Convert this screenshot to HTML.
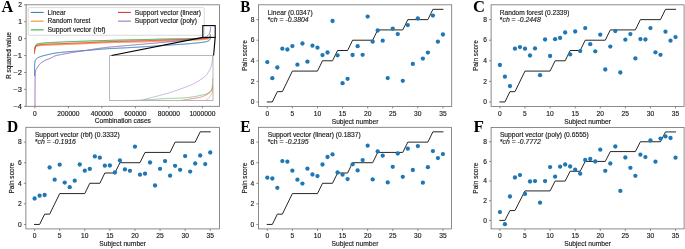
<!DOCTYPE html>
<html><head><meta charset="utf-8"><style>
html,body{margin:0;padding:0;background:#fff;}
svg{display:block;font-family:"Liberation Sans",sans-serif;will-change:transform;}
</style></head><body>
<svg width="685" height="249" viewBox="0 0 685 249">
<rect width="685" height="249" fill="#fff"/>
<clipPath id="clipA"><rect x="26.1" y="4.8" width="193.4" height="101.5"/></clipPath>
<path d="M34.50,76.00 L34.50,75.51 L34.50,75.02 L34.50,74.53 L34.50,74.04 L34.51,73.55 L34.51,73.06 L34.51,72.57 L34.52,72.08 L34.52,71.59 L34.52,71.10 L34.53,70.61 L34.53,70.12 L34.54,69.63 L34.55,69.14 L34.55,68.65 L34.56,68.17 L34.57,67.68 L34.58,67.19 L34.59,66.70 L34.60,66.21 L34.61,65.72 L34.62,65.23 L34.65,64.73 L34.68,64.24 L34.72,63.74 L34.77,63.25 L34.82,62.76 L34.88,62.28 L34.95,61.81 L35.03,61.34 L35.16,60.87 L35.35,60.40 L35.58,59.94 L35.83,59.51 L36.11,59.12 L36.41,58.77 L36.78,58.46 L37.19,58.17 L37.63,57.91 L38.06,57.67 L38.49,57.44 L38.93,57.23 L39.38,57.03 L39.84,56.84 L40.30,56.67 L40.76,56.51 L41.22,56.36 L41.68,56.21 L42.15,56.07 L42.62,55.93 L43.09,55.80 L43.56,55.67 L44.04,55.55 L44.51,55.42 L44.99,55.31 L45.47,55.19 L45.95,55.08 L46.42,54.96 L46.90,54.85 L47.38,54.74 L47.86,54.63 L48.33,54.52 L48.81,54.41 L49.29,54.31 L49.76,54.20 L50.24,54.09 L50.72,53.98 L51.20,53.88 L51.68,53.78 L52.16,53.68 L52.64,53.58 L53.12,53.48 L53.60,53.39 L54.08,53.30 L54.57,53.22 L55.05,53.14 L55.53,53.07 L56.01,53.00 L56.50,52.93 L56.98,52.87 L57.47,52.81 L57.95,52.75 L58.44,52.69 L58.92,52.63 L59.41,52.57 L59.89,52.52 L60.38,52.47 L60.87,52.42 L61.35,52.37 L61.84,52.32 L62.33,52.27 L62.82,52.22 L63.30,52.17 L63.79,52.13 L64.28,52.08 L64.77,52.04 L65.26,52.00 L65.75,51.95 L66.23,51.91 L66.72,51.87 L67.21,51.83 L67.70,51.79 L68.19,51.75 L68.68,51.71 L69.16,51.67 L69.65,51.63 L70.14,51.59 L70.63,51.55 L71.11,51.51 L71.60,51.47 L72.09,51.44 L72.58,51.40 L73.07,51.37 L73.55,51.33 L74.04,51.30 L74.53,51.26 L75.02,51.23 L75.51,51.20 L76.00,51.17 L76.48,51.13 L76.97,51.10 L77.46,51.07 L77.95,51.04 L78.44,51.01 L78.93,50.98 L79.42,50.95 L79.90,50.92 L80.39,50.88 L80.88,50.85 L81.37,50.82 L81.86,50.79 L82.35,50.76 L82.84,50.72 L83.32,50.69 L83.81,50.66 L84.30,50.62 L84.79,50.59 L85.28,50.55 L85.77,50.52 L86.25,50.48 L86.74,50.44 L87.23,50.40 L87.72,50.37 L88.20,50.33 L88.69,50.28 L89.18,50.24 L89.67,50.20 L90.16,50.16 L90.64,50.12 L91.13,50.07 L91.62,50.03 L92.11,49.98 L92.59,49.94 L93.08,49.90 L93.57,49.85 L94.06,49.81 L94.54,49.76 L95.03,49.72 L95.52,49.67 L96.01,49.63 L96.49,49.58 L96.98,49.54 L97.47,49.50 L97.96,49.45 L98.44,49.41 L98.93,49.37 L99.42,49.33 L99.91,49.29 L100.40,49.24 L100.88,49.20 L101.37,49.16 L101.86,49.13 L102.35,49.09 L102.83,49.05 L103.32,49.02 L103.81,48.98 L104.30,48.95 L104.79,48.91 L105.28,48.88 L105.76,48.85 L106.25,48.82 L106.74,48.79 L107.23,48.76 L107.72,48.73 L108.21,48.70 L108.69,48.68 L109.18,48.65 L109.67,48.62 L110.16,48.59 L110.65,48.57 L111.14,48.54 L111.63,48.51 L112.12,48.49 L112.60,48.46 L113.09,48.44 L113.58,48.41 L114.07,48.39 L114.56,48.37 L115.05,48.34 L115.54,48.32 L116.03,48.29 L116.51,48.27 L117.00,48.25 L117.49,48.22 L117.98,48.20 L118.47,48.18 L118.96,48.15 L119.45,48.13 L119.94,48.11 L120.43,48.09 L120.92,48.06 L121.40,48.04 L121.89,48.02 L122.38,47.99 L122.87,47.97 L123.36,47.94 L123.85,47.92 L124.34,47.90 L124.83,47.87 L125.32,47.85 L125.81,47.82 L126.29,47.80 L126.78,47.77 L127.27,47.75 L127.76,47.72 L128.25,47.70 L128.74,47.67 L129.23,47.64 L129.72,47.62 L130.20,47.59 L130.69,47.56 L131.18,47.53 L131.67,47.50 L132.16,47.48 L132.65,47.45 L133.14,47.42 L133.62,47.39 L134.11,47.36 L134.60,47.33 L135.09,47.31 L135.58,47.28 L136.07,47.25 L136.56,47.22 L137.05,47.19 L137.53,47.16 L138.02,47.13 L138.51,47.10 L139.00,47.07 L139.49,47.04 L139.98,47.01 L140.47,46.98 L140.95,46.95 L141.44,46.92 L141.93,46.89 L142.42,46.86 L142.91,46.83 L143.40,46.80 L143.89,46.77 L144.37,46.74 L144.86,46.71 L145.35,46.68 L145.84,46.65 L146.33,46.62 L146.82,46.59 L147.30,46.56 L147.79,46.53 L148.28,46.50 L148.77,46.47 L149.26,46.44 L149.75,46.40 L150.24,46.37 L150.72,46.34 L151.21,46.31 L151.70,46.28 L152.19,46.25 L152.68,46.22 L153.17,46.18 L153.65,46.15 L154.14,46.12 L154.63,46.09 L155.12,46.06 L155.61,46.02 L156.10,45.99 L156.59,45.96 L157.07,45.93 L157.56,45.90 L158.05,45.86 L158.54,45.83 L159.03,45.80 L159.52,45.77 L160.00,45.73 L160.49,45.70 L160.98,45.67 L161.47,45.64 L161.96,45.60 L162.45,45.57 L162.93,45.54 L163.42,45.51 L163.91,45.47 L164.40,45.44 L164.89,45.41 L165.38,45.37 L165.86,45.34 L166.35,45.31 L166.84,45.28 L167.33,45.24 L167.82,45.21 L168.31,45.18 L168.80,45.15 L169.28,45.12 L169.77,45.08 L170.26,45.05 L170.75,45.02 L171.24,44.99 L171.73,44.96 L172.22,44.92 L172.70,44.89 L173.19,44.86 L173.68,44.83 L174.17,44.79 L174.66,44.76 L175.15,44.73 L175.63,44.70 L176.12,44.66 L176.61,44.63 L177.10,44.60 L177.59,44.56 L178.08,44.53 L178.57,44.50 L179.05,44.46 L179.54,44.43 L180.03,44.39 L180.52,44.36 L181.01,44.32 L181.49,44.29 L181.98,44.25 L182.47,44.21 L182.96,44.18 L183.45,44.14 L183.94,44.10 L184.42,44.07 L184.91,44.03 L185.40,43.99 L185.89,43.95 L186.37,43.91 L186.86,43.87 L187.35,43.83 L187.84,43.79 L188.32,43.75 L188.81,43.70 L189.30,43.66 L189.79,43.62 L190.27,43.58 L190.76,43.53 L191.25,43.49 L191.74,43.45 L192.23,43.41 L192.72,43.36 L193.21,43.32 L193.70,43.28 L194.19,43.24 L194.68,43.19 L195.17,43.15 L195.66,43.10 L196.15,43.06 L196.64,43.01 L197.13,42.96 L197.62,42.92 L198.11,42.87 L198.60,42.81 L199.09,42.76 L199.57,42.70 L200.06,42.65 L200.55,42.59 L201.03,42.52 L201.51,42.46 L202.00,42.39 L202.48,42.32 L202.96,42.25 L203.44,42.17 L203.92,42.09 L204.39,42.01 L204.87,41.92 L205.35,41.83 L205.86,41.73 L206.37,41.61 L206.89,41.48 L207.40,41.34 L207.88,41.17 L208.32,40.99 L208.71,40.79 L209.04,40.57 L209.33,40.29 L209.60,39.95 L209.86,39.54 L210.09,39.09 L210.29,38.59 L210.47,38.05 L210.60,37.50" fill="none" stroke="#1f77b4" stroke-width="1.0" stroke-linejoin="round" clip-path="url(#clipA)"/>
<path d="M34.60,51.50 L34.61,51.02 L34.64,50.55 L34.70,50.10 L34.76,49.65 L34.84,49.21 L34.93,48.78 L35.04,48.36 L35.20,47.92 L35.43,47.49 L35.70,47.11 L35.99,46.81 L36.33,46.59 L36.74,46.40 L37.19,46.24 L37.65,46.10 L38.09,45.98 L38.53,45.86 L38.98,45.76 L39.42,45.68 L39.87,45.61 L40.32,45.57 L40.77,45.53 L41.22,45.50 L41.67,45.46 L42.12,45.43 L42.57,45.40 L43.02,45.37 L43.47,45.34 L43.92,45.32 L44.38,45.30 L44.83,45.28 L45.28,45.25 L45.74,45.23 L46.19,45.22 L46.64,45.20 L47.10,45.18 L47.55,45.16 L48.01,45.15 L48.46,45.13 L48.92,45.12 L49.37,45.10 L49.82,45.08 L50.28,45.07 L50.73,45.05 L51.18,45.03 L51.64,45.02 L52.09,45.00 L52.54,44.98 L53.00,44.96 L53.45,44.94 L53.90,44.92 L54.35,44.91 L54.81,44.89 L55.26,44.87 L55.71,44.86 L56.17,44.84 L56.62,44.82 L57.07,44.81 L57.52,44.79 L57.98,44.77 L58.43,44.76 L58.88,44.74 L59.34,44.72 L59.79,44.71 L60.24,44.69 L60.69,44.67 L61.15,44.66 L61.60,44.64 L62.05,44.62 L62.51,44.61 L62.96,44.59 L63.41,44.57 L63.86,44.56 L64.32,44.54 L64.77,44.52 L65.22,44.50 L65.68,44.49 L66.13,44.47 L66.58,44.45 L67.03,44.44 L67.49,44.42 L67.94,44.40 L68.39,44.39 L68.85,44.37 L69.30,44.35 L69.75,44.34 L70.20,44.32 L70.66,44.30 L71.11,44.29 L71.56,44.27 L72.02,44.25 L72.47,44.24 L72.92,44.22 L73.37,44.20 L73.83,44.18 L74.28,44.17 L74.73,44.15 L75.18,44.13 L75.64,44.12 L76.09,44.10 L76.54,44.08 L77.00,44.06 L77.45,44.05 L77.90,44.03 L78.35,44.01 L78.81,43.99 L79.26,43.98 L79.71,43.96 L80.17,43.94 L80.62,43.92 L81.07,43.90 L81.52,43.89 L81.98,43.87 L82.43,43.85 L82.88,43.83 L83.34,43.81 L83.79,43.79 L84.24,43.77 L84.69,43.76 L85.15,43.74 L85.60,43.72 L86.05,43.70 L86.50,43.68 L86.96,43.66 L87.41,43.64 L87.86,43.62 L88.32,43.60 L88.77,43.57 L89.22,43.55 L89.67,43.53 L90.13,43.51 L90.58,43.48 L91.03,43.46 L91.48,43.44 L91.94,43.41 L92.39,43.39 L92.84,43.37 L93.29,43.34 L93.75,43.32 L94.20,43.30 L94.65,43.27 L95.10,43.25 L95.56,43.23 L96.01,43.20 L96.46,43.18 L96.91,43.16 L97.37,43.13 L97.82,43.11 L98.27,43.09 L98.72,43.06 L99.18,43.04 L99.63,43.02 L100.08,43.00 L100.54,42.98 L100.99,42.96 L101.44,42.94 L101.89,42.92 L102.35,42.90 L102.80,42.88 L103.25,42.86 L103.70,42.85 L104.16,42.83 L104.61,42.81 L105.06,42.80 L105.52,42.78 L105.97,42.77 L106.42,42.75 L106.87,42.74 L107.33,42.72 L107.78,42.71 L108.23,42.70 L108.69,42.68 L109.14,42.67 L109.59,42.66 L110.04,42.64 L110.50,42.63 L110.95,42.62 L111.40,42.61 L111.86,42.59 L112.31,42.58 L112.76,42.57 L113.21,42.56 L113.67,42.54 L114.12,42.53 L114.57,42.52 L115.03,42.51 L115.48,42.50 L115.93,42.49 L116.39,42.48 L116.84,42.47 L117.29,42.45 L117.74,42.44 L118.20,42.43 L118.65,42.42 L119.10,42.41 L119.56,42.40 L120.01,42.39 L120.46,42.38 L120.92,42.37 L121.37,42.36 L121.82,42.35 L122.27,42.34 L122.73,42.33 L123.18,42.32 L123.63,42.31 L124.09,42.30 L124.54,42.29 L124.99,42.28 L125.45,42.27 L125.90,42.26 L126.35,42.25 L126.81,42.24 L127.26,42.23 L127.71,42.22 L128.16,42.22 L128.62,42.21 L129.07,42.20 L129.52,42.19 L129.98,42.18 L130.43,42.17 L130.88,42.16 L131.34,42.15 L131.79,42.14 L132.24,42.13 L132.70,42.12 L133.15,42.11 L133.60,42.10 L134.05,42.09 L134.51,42.08 L134.96,42.07 L135.41,42.06 L135.87,42.05 L136.32,42.04 L136.77,42.03 L137.23,42.02 L137.68,42.01 L138.13,42.00 L138.59,41.99 L139.04,41.98 L139.49,41.97 L139.94,41.96 L140.40,41.95 L140.85,41.93 L141.30,41.92 L141.76,41.91 L142.21,41.90 L142.66,41.89 L143.12,41.88 L143.57,41.87 L144.02,41.85 L144.47,41.84 L144.93,41.83 L145.38,41.82 L145.83,41.80 L146.29,41.79 L146.74,41.78 L147.19,41.77 L147.65,41.75 L148.10,41.74 L148.55,41.73 L149.00,41.71 L149.46,41.70 L149.91,41.69 L150.36,41.67 L150.82,41.66 L151.27,41.65 L151.72,41.63 L152.18,41.62 L152.63,41.60 L153.08,41.59 L153.53,41.58 L153.99,41.56 L154.44,41.55 L154.89,41.53 L155.35,41.52 L155.80,41.50 L156.25,41.49 L156.70,41.47 L157.16,41.46 L157.61,41.45 L158.06,41.43 L158.52,41.42 L158.97,41.40 L159.42,41.39 L159.87,41.37 L160.33,41.36 L160.78,41.34 L161.23,41.33 L161.69,41.31 L162.14,41.30 L162.59,41.28 L163.04,41.27 L163.50,41.25 L163.95,41.24 L164.40,41.22 L164.86,41.20 L165.31,41.19 L165.76,41.17 L166.22,41.16 L166.67,41.14 L167.12,41.13 L167.57,41.11 L168.03,41.10 L168.48,41.09 L168.93,41.07 L169.39,41.06 L169.84,41.04 L170.29,41.03 L170.74,41.01 L171.20,41.00 L171.65,40.98 L172.10,40.97 L172.56,40.95 L173.01,40.94 L173.46,40.92 L173.92,40.91 L174.37,40.89 L174.82,40.88 L175.27,40.86 L175.73,40.85 L176.18,40.83 L176.63,40.82 L177.09,40.80 L177.54,40.79 L177.99,40.77 L178.44,40.76 L178.90,40.74 L179.35,40.72 L179.80,40.71 L180.26,40.69 L180.71,40.68 L181.16,40.66 L181.61,40.64 L182.07,40.63 L182.52,40.61 L182.97,40.59 L183.43,40.58 L183.88,40.56 L184.33,40.54 L184.78,40.52 L185.24,40.50 L185.69,40.49 L186.14,40.47 L186.60,40.45 L187.05,40.43 L187.50,40.41 L187.95,40.39 L188.41,40.37 L188.86,40.35 L189.31,40.33 L189.76,40.31 L190.22,40.29 L190.67,40.27 L191.12,40.25 L191.58,40.23 L192.03,40.21 L192.48,40.19 L192.94,40.17 L193.39,40.15 L193.84,40.13 L194.30,40.11 L194.75,40.09 L195.21,40.07 L195.66,40.05 L196.11,40.03 L196.57,40.00 L197.02,39.98 L197.47,39.96 L197.93,39.93 L198.38,39.91 L198.83,39.88 L199.29,39.86 L199.74,39.83 L200.19,39.80 L200.64,39.77 L201.10,39.74 L201.55,39.70 L202.00,39.67 L202.45,39.63 L202.90,39.60 L203.35,39.56 L203.80,39.52 L204.25,39.48 L204.69,39.43 L205.14,39.39 L205.60,39.33 L206.07,39.27 L206.55,39.21 L207.02,39.13 L207.48,39.04 L207.93,38.94 L208.35,38.83 L208.75,38.70 L209.11,38.55 L209.45,38.32 L209.77,38.01 L210.06,37.64 L210.34,37.23 L210.60,36.80" fill="none" stroke="#ff7f0e" stroke-width="1.0" stroke-linejoin="round" clip-path="url(#clipA)"/>
<path d="M34.70,48.70 L34.80,48.26 L34.91,47.81 L35.03,47.38 L35.16,46.94 L35.29,46.49 L35.42,46.01 L35.57,45.54 L35.74,45.11 L35.94,44.77 L36.21,44.54 L36.60,44.34 L37.05,44.18 L37.54,44.04 L38.00,43.90 L38.43,43.77 L38.87,43.65 L39.31,43.53 L39.76,43.44 L40.20,43.37 L40.65,43.31 L41.10,43.25 L41.55,43.20 L42.00,43.15 L42.46,43.11 L42.91,43.06 L43.36,43.03 L43.82,42.99 L44.27,42.95 L44.73,42.92 L45.18,42.89 L45.63,42.85 L46.08,42.82 L46.54,42.80 L46.99,42.77 L47.44,42.74 L47.90,42.72 L48.35,42.69 L48.81,42.67 L49.26,42.64 L49.71,42.62 L50.17,42.60 L50.62,42.57 L51.08,42.55 L51.53,42.52 L51.98,42.50 L52.44,42.48 L52.89,42.45 L53.34,42.43 L53.80,42.40 L54.25,42.38 L54.71,42.36 L55.16,42.33 L55.61,42.31 L56.07,42.29 L56.52,42.26 L56.97,42.24 L57.43,42.22 L57.88,42.20 L58.34,42.18 L58.79,42.16 L59.24,42.13 L59.70,42.11 L60.15,42.09 L60.61,42.07 L61.06,42.05 L61.51,42.03 L61.97,42.01 L62.42,41.99 L62.88,41.97 L63.33,41.96 L63.78,41.94 L64.24,41.92 L64.69,41.90 L65.15,41.88 L65.60,41.86 L66.05,41.84 L66.51,41.82 L66.96,41.80 L67.42,41.79 L67.87,41.77 L68.32,41.75 L68.78,41.73 L69.23,41.71 L69.69,41.70 L70.14,41.68 L70.59,41.66 L71.05,41.64 L71.50,41.62 L71.96,41.61 L72.41,41.59 L72.86,41.57 L73.32,41.56 L73.77,41.54 L74.23,41.52 L74.68,41.50 L75.13,41.49 L75.59,41.47 L76.04,41.45 L76.50,41.44 L76.95,41.42 L77.40,41.40 L77.86,41.39 L78.31,41.37 L78.77,41.35 L79.22,41.34 L79.68,41.32 L80.13,41.31 L80.58,41.29 L81.04,41.27 L81.49,41.26 L81.95,41.24 L82.40,41.23 L82.85,41.21 L83.31,41.19 L83.76,41.18 L84.22,41.16 L84.67,41.15 L85.12,41.13 L85.58,41.11 L86.03,41.10 L86.49,41.08 L86.94,41.07 L87.39,41.05 L87.85,41.04 L88.30,41.02 L88.76,41.01 L89.21,40.99 L89.67,40.97 L90.12,40.96 L90.57,40.94 L91.03,40.93 L91.48,40.91 L91.94,40.90 L92.39,40.88 L92.84,40.87 L93.30,40.85 L93.75,40.84 L94.21,40.82 L94.66,40.81 L95.11,40.79 L95.57,40.78 L96.02,40.76 L96.48,40.75 L96.93,40.73 L97.39,40.72 L97.84,40.70 L98.29,40.69 L98.75,40.68 L99.20,40.66 L99.66,40.65 L100.11,40.63 L100.56,40.62 L101.02,40.60 L101.47,40.59 L101.93,40.58 L102.38,40.56 L102.84,40.55 L103.29,40.53 L103.74,40.52 L104.20,40.51 L104.65,40.49 L105.11,40.48 L105.56,40.47 L106.01,40.45 L106.47,40.44 L106.92,40.42 L107.38,40.41 L107.83,40.40 L108.29,40.39 L108.74,40.37 L109.19,40.36 L109.65,40.35 L110.10,40.33 L110.56,40.32 L111.01,40.31 L111.47,40.30 L111.92,40.28 L112.37,40.27 L112.83,40.26 L113.28,40.25 L113.74,40.23 L114.19,40.22 L114.64,40.21 L115.10,40.20 L115.55,40.19 L116.01,40.17 L116.46,40.16 L116.92,40.15 L117.37,40.14 L117.82,40.13 L118.28,40.12 L118.73,40.11 L119.19,40.10 L119.64,40.08 L120.10,40.07 L120.55,40.06 L121.00,40.05 L121.46,40.04 L121.91,40.03 L122.37,40.02 L122.82,40.01 L123.28,40.00 L123.73,39.99 L124.18,39.98 L124.64,39.97 L125.09,39.96 L125.55,39.95 L126.00,39.94 L126.45,39.93 L126.91,39.92 L127.36,39.91 L127.82,39.90 L128.27,39.89 L128.73,39.88 L129.18,39.87 L129.63,39.86 L130.09,39.85 L130.54,39.84 L131.00,39.83 L131.45,39.82 L131.91,39.81 L132.36,39.80 L132.81,39.79 L133.27,39.78 L133.72,39.78 L134.18,39.77 L134.63,39.76 L135.09,39.75 L135.54,39.74 L135.99,39.73 L136.45,39.72 L136.90,39.71 L137.36,39.70 L137.81,39.69 L138.27,39.68 L138.72,39.67 L139.17,39.66 L139.63,39.65 L140.08,39.64 L140.54,39.63 L140.99,39.62 L141.45,39.61 L141.90,39.60 L142.35,39.59 L142.81,39.58 L143.26,39.57 L143.72,39.55 L144.17,39.54 L144.63,39.53 L145.08,39.52 L145.53,39.51 L145.99,39.50 L146.44,39.49 L146.90,39.48 L147.35,39.47 L147.81,39.45 L148.26,39.44 L148.71,39.43 L149.17,39.42 L149.62,39.41 L150.08,39.39 L150.53,39.38 L150.99,39.37 L151.44,39.36 L151.89,39.34 L152.35,39.33 L152.80,39.32 L153.26,39.30 L153.71,39.29 L154.16,39.28 L154.62,39.26 L155.07,39.25 L155.53,39.24 L155.98,39.23 L156.44,39.21 L156.89,39.20 L157.34,39.19 L157.80,39.18 L158.25,39.16 L158.71,39.15 L159.16,39.14 L159.62,39.13 L160.07,39.11 L160.52,39.10 L160.98,39.09 L161.43,39.08 L161.89,39.07 L162.34,39.06 L162.79,39.05 L163.25,39.04 L163.70,39.03 L164.16,39.02 L164.61,39.01 L165.07,39.00 L165.52,38.99 L165.97,38.98 L166.43,38.97 L166.88,38.96 L167.34,38.96 L167.79,38.95 L168.25,38.94 L168.70,38.93 L169.15,38.92 L169.61,38.92 L170.06,38.91 L170.52,38.90 L170.97,38.89 L171.43,38.89 L171.88,38.88 L172.33,38.87 L172.79,38.87 L173.24,38.86 L173.70,38.85 L174.15,38.85 L174.61,38.84 L175.06,38.83 L175.52,38.83 L175.97,38.82 L176.42,38.82 L176.88,38.81 L177.33,38.80 L177.79,38.80 L178.24,38.79 L178.70,38.78 L179.15,38.78 L179.60,38.77 L180.06,38.77 L180.51,38.76 L180.97,38.75 L181.42,38.75 L181.88,38.74 L182.33,38.73 L182.78,38.73 L183.24,38.72 L183.69,38.71 L184.15,38.70 L184.60,38.70 L185.06,38.69 L185.51,38.68 L185.97,38.67 L186.42,38.67 L186.87,38.66 L187.33,38.65 L187.78,38.64 L188.24,38.63 L188.69,38.63 L189.15,38.62 L189.60,38.61 L190.05,38.60 L190.51,38.59 L190.96,38.58 L191.42,38.57 L191.87,38.57 L192.33,38.56 L192.79,38.55 L193.24,38.54 L193.70,38.53 L194.15,38.53 L194.61,38.52 L195.07,38.51 L195.52,38.50 L195.98,38.50 L196.44,38.49 L196.89,38.48 L197.35,38.47 L197.80,38.46 L198.26,38.45 L198.71,38.44 L199.17,38.43 L199.62,38.42 L200.08,38.40 L200.53,38.39 L200.99,38.38 L201.44,38.36 L201.89,38.34 L202.34,38.33 L202.80,38.31 L203.25,38.29 L203.70,38.27 L204.15,38.25 L204.59,38.22 L205.04,38.20 L205.51,38.16 L206.00,38.11 L206.50,38.03 L206.99,37.95 L207.48,37.84 L207.93,37.72 L208.35,37.59 L208.72,37.45 L209.02,37.29 L209.29,37.08 L209.54,36.79 L209.78,36.44 L210.00,36.03 L210.19,35.57 L210.36,35.07 L210.50,34.55 L210.60,34.00" fill="none" stroke="#2ca02c" stroke-width="1.0" stroke-linejoin="round" clip-path="url(#clipA)"/>
<path d="M34.50,53.80 L34.50,53.33 L34.52,52.87 L34.54,52.41 L34.57,51.95 L34.60,51.49 L34.64,51.03 L34.68,50.57 L34.73,50.12 L34.78,49.67 L34.84,49.22 L34.92,48.76 L35.03,48.30 L35.15,47.85 L35.30,47.41 L35.46,46.99 L35.66,46.58 L35.93,46.16 L36.24,45.80 L36.57,45.56 L36.94,45.39 L37.35,45.24 L37.80,45.11 L38.27,44.99 L38.75,44.89 L39.23,44.81 L39.70,44.74 L40.16,44.68 L40.61,44.63 L41.07,44.58 L41.52,44.54 L41.98,44.50 L42.44,44.46 L42.90,44.43 L43.36,44.40 L43.82,44.37 L44.28,44.34 L44.74,44.31 L45.20,44.29 L45.66,44.26 L46.12,44.24 L46.58,44.22 L47.04,44.20 L47.50,44.18 L47.96,44.16 L48.42,44.14 L48.88,44.12 L49.34,44.10 L49.80,44.08 L50.26,44.07 L50.72,44.05 L51.18,44.03 L51.64,44.01 L52.10,44.00 L52.56,43.98 L53.02,43.96 L53.47,43.94 L53.93,43.92 L54.39,43.91 L54.85,43.89 L55.31,43.87 L55.77,43.86 L56.23,43.84 L56.69,43.82 L57.15,43.81 L57.61,43.79 L58.07,43.77 L58.53,43.75 L58.99,43.74 L59.45,43.72 L59.91,43.70 L60.37,43.69 L60.83,43.67 L61.29,43.65 L61.75,43.63 L62.21,43.62 L62.67,43.60 L63.13,43.58 L63.59,43.57 L64.05,43.55 L64.51,43.53 L64.96,43.51 L65.42,43.50 L65.88,43.48 L66.34,43.46 L66.80,43.45 L67.26,43.43 L67.72,43.41 L68.18,43.39 L68.64,43.38 L69.10,43.36 L69.56,43.34 L70.02,43.33 L70.48,43.31 L70.94,43.29 L71.40,43.28 L71.86,43.26 L72.32,43.24 L72.78,43.22 L73.24,43.21 L73.70,43.19 L74.16,43.17 L74.62,43.15 L75.08,43.14 L75.54,43.12 L76.00,43.10 L76.45,43.08 L76.91,43.07 L77.37,43.05 L77.83,43.03 L78.29,43.01 L78.75,43.00 L79.21,42.98 L79.67,42.96 L80.13,42.94 L80.59,42.92 L81.05,42.90 L81.51,42.89 L81.97,42.87 L82.43,42.85 L82.89,42.83 L83.35,42.81 L83.81,42.79 L84.27,42.77 L84.73,42.75 L85.19,42.73 L85.65,42.72 L86.10,42.70 L86.56,42.68 L87.02,42.66 L87.48,42.63 L87.94,42.61 L88.40,42.59 L88.86,42.57 L89.32,42.55 L89.78,42.53 L90.24,42.50 L90.70,42.48 L91.16,42.46 L91.62,42.43 L92.08,42.41 L92.54,42.39 L93.00,42.36 L93.46,42.34 L93.91,42.31 L94.37,42.29 L94.83,42.27 L95.29,42.24 L95.75,42.22 L96.21,42.20 L96.67,42.17 L97.13,42.15 L97.59,42.13 L98.05,42.10 L98.51,42.08 L98.97,42.06 L99.43,42.04 L99.89,42.01 L100.35,41.99 L100.80,41.97 L101.26,41.95 L101.72,41.93 L102.18,41.91 L102.64,41.89 L103.10,41.87 L103.56,41.85 L104.02,41.84 L104.48,41.82 L104.94,41.80 L105.40,41.79 L105.86,41.77 L106.32,41.75 L106.78,41.74 L107.24,41.72 L107.70,41.71 L108.16,41.69 L108.62,41.68 L109.08,41.66 L109.54,41.65 L110.00,41.63 L110.46,41.62 L110.92,41.61 L111.37,41.59 L111.83,41.58 L112.29,41.56 L112.75,41.55 L113.21,41.54 L113.67,41.52 L114.13,41.51 L114.59,41.50 L115.05,41.49 L115.51,41.47 L115.97,41.46 L116.43,41.45 L116.89,41.44 L117.35,41.42 L117.81,41.41 L118.27,41.40 L118.73,41.39 L119.19,41.37 L119.65,41.36 L120.11,41.35 L120.57,41.34 L121.03,41.33 L121.49,41.32 L121.95,41.31 L122.41,41.29 L122.87,41.28 L123.33,41.27 L123.79,41.26 L124.25,41.25 L124.71,41.24 L125.17,41.23 L125.63,41.22 L126.09,41.20 L126.55,41.19 L127.01,41.18 L127.47,41.17 L127.93,41.16 L128.39,41.15 L128.85,41.14 L129.31,41.13 L129.77,41.12 L130.23,41.11 L130.69,41.09 L131.14,41.08 L131.60,41.07 L132.06,41.06 L132.52,41.05 L132.98,41.04 L133.44,41.03 L133.90,41.02 L134.36,41.01 L134.82,41.00 L135.28,40.98 L135.74,40.97 L136.20,40.96 L136.66,40.95 L137.12,40.94 L137.58,40.93 L138.04,40.92 L138.50,40.90 L138.96,40.89 L139.42,40.88 L139.88,40.87 L140.34,40.86 L140.80,40.84 L141.26,40.83 L141.72,40.82 L142.18,40.81 L142.64,40.79 L143.10,40.78 L143.56,40.77 L144.02,40.76 L144.48,40.74 L144.94,40.73 L145.40,40.72 L145.86,40.70 L146.32,40.69 L146.78,40.68 L147.24,40.66 L147.70,40.65 L148.16,40.64 L148.62,40.62 L149.08,40.61 L149.54,40.59 L150.00,40.58 L150.46,40.57 L150.91,40.55 L151.37,40.54 L151.83,40.52 L152.29,40.51 L152.75,40.49 L153.21,40.48 L153.67,40.46 L154.13,40.45 L154.59,40.43 L155.05,40.42 L155.51,40.41 L155.97,40.39 L156.43,40.38 L156.89,40.36 L157.35,40.35 L157.81,40.33 L158.27,40.32 L158.73,40.30 L159.19,40.29 L159.65,40.27 L160.11,40.26 L160.57,40.24 L161.03,40.23 L161.49,40.21 L161.95,40.20 L162.41,40.18 L162.87,40.17 L163.33,40.15 L163.79,40.14 L164.25,40.12 L164.71,40.11 L165.16,40.09 L165.62,40.08 L166.08,40.07 L166.54,40.05 L167.00,40.04 L167.46,40.02 L167.92,40.01 L168.38,40.00 L168.84,39.98 L169.30,39.97 L169.76,39.95 L170.22,39.94 L170.68,39.93 L171.14,39.91 L171.60,39.90 L172.06,39.89 L172.52,39.87 L172.98,39.86 L173.44,39.85 L173.90,39.83 L174.36,39.82 L174.82,39.81 L175.28,39.79 L175.74,39.78 L176.20,39.77 L176.66,39.75 L177.12,39.74 L177.58,39.73 L178.04,39.71 L178.50,39.70 L178.96,39.68 L179.42,39.67 L179.88,39.66 L180.34,39.64 L180.80,39.63 L181.26,39.61 L181.72,39.60 L182.17,39.58 L182.63,39.57 L183.09,39.55 L183.55,39.54 L184.01,39.52 L184.47,39.51 L184.93,39.49 L185.39,39.47 L185.85,39.46 L186.31,39.44 L186.77,39.43 L187.23,39.41 L187.69,39.39 L188.15,39.37 L188.61,39.36 L189.07,39.34 L189.53,39.32 L189.99,39.30 L190.45,39.28 L190.91,39.26 L191.37,39.25 L191.83,39.23 L192.29,39.21 L192.75,39.19 L193.21,39.17 L193.67,39.16 L194.13,39.14 L194.59,39.12 L195.05,39.10 L195.51,39.08 L195.97,39.06 L196.43,39.04 L196.89,39.02 L197.35,39.00 L197.81,38.98 L198.27,38.96 L198.73,38.93 L199.19,38.91 L199.65,38.88 L200.11,38.86 L200.57,38.83 L201.03,38.80 L201.49,38.77 L201.94,38.74 L202.40,38.71 L202.86,38.68 L203.32,38.64 L203.77,38.61 L204.23,38.57 L204.69,38.53 L205.14,38.49 L205.61,38.44 L206.08,38.39 L206.55,38.33 L207.02,38.26 L207.48,38.18 L207.94,38.09 L208.37,37.98 L208.79,37.87 L209.19,37.72 L209.56,37.50 L209.92,37.20 L210.27,36.86 L210.60,36.50" fill="none" stroke="#d62728" stroke-width="1.0" stroke-linejoin="round" clip-path="url(#clipA)"/>
<path d="M35.00,106.50 L35.00,105.94 L35.00,105.37 L35.00,104.81 L35.00,104.24 L35.00,103.68 L35.00,103.12 L35.00,102.55 L35.00,101.99 L35.00,101.43 L35.00,100.86 L35.00,100.30 L35.01,99.74 L35.01,99.17 L35.01,98.61 L35.01,98.04 L35.01,97.48 L35.01,96.92 L35.01,96.35 L35.01,95.79 L35.02,95.23 L35.02,94.66 L35.02,94.10 L35.02,93.54 L35.02,92.97 L35.03,92.41 L35.03,91.85 L35.03,91.28 L35.03,90.72 L35.04,90.16 L35.04,89.60 L35.04,89.03 L35.04,88.47 L35.05,87.91 L35.05,87.34 L35.05,86.78 L35.06,86.22 L35.06,85.65 L35.06,85.09 L35.07,84.53 L35.07,83.97 L35.07,83.40 L35.08,82.84 L35.08,82.28 L35.09,81.71 L35.09,81.15 L35.10,80.59 L35.10,80.03 L35.11,79.46 L35.11,78.89 L35.13,78.32 L35.14,77.75 L35.16,77.17 L35.18,76.60 L35.21,76.02 L35.24,75.45 L35.27,74.88 L35.31,74.31 L35.34,73.75 L35.39,73.19 L35.43,72.64 L35.48,72.09 L35.54,71.55 L35.60,71.02 L35.69,70.50 L35.86,69.99 L36.08,69.48 L36.36,68.97 L36.66,68.47 L36.99,67.98 L37.32,67.50 L37.65,67.02 L37.97,66.55 L38.28,66.08 L38.59,65.60 L38.92,65.13 L39.27,64.66 L39.62,64.22 L39.99,63.80 L40.38,63.41 L40.78,63.06 L41.21,62.72 L41.66,62.39 L42.12,62.08 L42.61,61.78 L43.10,61.49 L43.60,61.21 L44.11,60.93 L44.62,60.67 L45.14,60.42 L45.65,60.17 L46.15,59.93 L46.67,59.70 L47.19,59.49 L47.71,59.29 L48.24,59.09 L48.77,58.89 L49.30,58.69 L49.82,58.48 L50.34,58.25 L50.85,58.01 L51.36,57.75 L51.86,57.49 L52.37,57.22 L52.87,56.95 L53.37,56.69 L53.88,56.44 L54.39,56.20 L54.90,55.98 L55.42,55.78 L55.95,55.61 L56.48,55.47 L57.02,55.34 L57.57,55.22 L58.12,55.10 L58.68,55.00 L59.23,54.89 L59.79,54.80 L60.35,54.70 L60.91,54.60 L61.47,54.50 L62.02,54.40 L62.57,54.29 L63.13,54.18 L63.68,54.07 L64.23,53.97 L64.79,53.86 L65.34,53.75 L65.89,53.65 L66.45,53.54 L67.00,53.44 L67.56,53.34 L68.11,53.24 L68.66,53.14 L69.22,53.04 L69.77,52.94 L70.33,52.84 L70.88,52.75 L71.44,52.66 L71.99,52.56 L72.55,52.47 L73.11,52.38 L73.66,52.29 L74.22,52.20 L74.77,52.11 L75.33,52.02 L75.89,51.94 L76.44,51.85 L77.00,51.76 L77.56,51.68 L78.11,51.59 L78.67,51.51 L79.23,51.42 L79.78,51.34 L80.34,51.25 L80.90,51.17 L81.46,51.09 L82.01,51.00 L82.57,50.92 L83.13,50.83 L83.68,50.75 L84.24,50.67 L84.80,50.58 L85.35,50.50 L85.91,50.41 L86.47,50.33 L87.03,50.24 L87.58,50.16 L88.14,50.07 L88.70,49.98 L89.25,49.90 L89.81,49.81 L90.37,49.72 L90.92,49.63 L91.48,49.54 L92.04,49.45 L92.59,49.37 L93.15,49.28 L93.71,49.19 L94.26,49.10 L94.82,49.02 L95.38,48.93 L95.93,48.84 L96.49,48.76 L97.05,48.67 L97.60,48.59 L98.16,48.51 L98.72,48.43 L99.28,48.35 L99.83,48.27 L100.39,48.19 L100.95,48.11 L101.51,48.04 L102.07,47.96 L102.62,47.89 L103.18,47.82 L103.74,47.75 L104.30,47.68 L104.86,47.62 L105.42,47.55 L105.98,47.49 L106.54,47.43 L107.10,47.37 L107.66,47.31 L108.22,47.25 L108.78,47.19 L109.34,47.13 L109.90,47.08 L110.46,47.02 L111.02,46.97 L111.58,46.91 L112.14,46.86 L112.70,46.81 L113.26,46.75 L113.82,46.70 L114.38,46.65 L114.94,46.60 L115.50,46.55 L116.06,46.50 L116.63,46.45 L117.19,46.40 L117.75,46.35 L118.31,46.30 L118.87,46.26 L119.43,46.21 L119.99,46.16 L120.56,46.11 L121.12,46.07 L121.68,46.02 L122.24,45.97 L122.80,45.92 L123.36,45.88 L123.93,45.83 L124.49,45.78 L125.05,45.73 L125.61,45.68 L126.17,45.64 L126.73,45.59 L127.29,45.54 L127.86,45.49 L128.42,45.44 L128.98,45.39 L129.54,45.34 L130.10,45.29 L130.66,45.24 L131.22,45.19 L131.78,45.14 L132.34,45.09 L132.91,45.04 L133.47,44.99 L134.03,44.94 L134.59,44.89 L135.15,44.84 L135.71,44.79 L136.27,44.74 L136.83,44.69 L137.39,44.64 L137.96,44.59 L138.52,44.54 L139.08,44.49 L139.64,44.44 L140.20,44.40 L140.76,44.35 L141.32,44.30 L141.88,44.25 L142.44,44.20 L143.01,44.15 L143.57,44.10 L144.13,44.05 L144.69,44.00 L145.25,43.95 L145.81,43.91 L146.37,43.86 L146.93,43.81 L147.50,43.76 L148.06,43.71 L148.62,43.66 L149.18,43.61 L149.74,43.56 L150.30,43.51 L150.86,43.47 L151.42,43.42 L151.98,43.37 L152.55,43.32 L153.11,43.27 L153.67,43.22 L154.23,43.17 L154.79,43.12 L155.35,43.07 L155.91,43.02 L156.47,42.97 L157.03,42.92 L157.60,42.87 L158.16,42.82 L158.72,42.77 L159.28,42.72 L159.84,42.67 L160.40,42.62 L160.96,42.57 L161.52,42.52 L162.08,42.47 L162.65,42.42 L163.21,42.36 L163.77,42.31 L164.33,42.26 L164.89,42.21 L165.45,42.16 L166.01,42.11 L166.57,42.06 L167.13,42.01 L167.69,41.96 L168.26,41.91 L168.82,41.86 L169.38,41.81 L169.94,41.76 L170.50,41.71 L171.06,41.66 L171.62,41.61 L172.19,41.56 L172.75,41.51 L173.31,41.46 L173.87,41.41 L174.43,41.36 L174.99,41.31 L175.55,41.26 L176.12,41.21 L176.68,41.16 L177.24,41.11 L177.80,41.06 L178.36,41.01 L178.92,40.96 L179.48,40.91 L180.04,40.86 L180.60,40.80 L181.16,40.75 L181.73,40.69 L182.29,40.64 L182.85,40.58 L183.41,40.53 L183.97,40.47 L184.53,40.41 L185.09,40.35 L185.65,40.29 L186.21,40.23 L186.77,40.17 L187.33,40.11 L187.89,40.05 L188.44,39.98 L189.00,39.92 L189.56,39.85 L190.12,39.79 L190.68,39.72 L191.24,39.65 L191.81,39.59 L192.37,39.52 L192.93,39.45 L193.50,39.39 L194.06,39.32 L194.63,39.25 L195.20,39.18 L195.76,39.10 L196.32,39.03 L196.89,38.95 L197.45,38.87 L198.01,38.79 L198.57,38.70 L199.12,38.61 L199.68,38.51 L200.23,38.41 L200.77,38.30 L201.32,38.19 L201.86,38.07 L202.40,37.95 L202.93,37.82 L203.47,37.68 L204.02,37.51 L204.59,37.32 L205.15,37.11 L205.70,36.89 L206.24,36.64 L206.75,36.37 L207.22,36.09 L207.65,35.79 L208.03,35.47 L208.39,35.10 L208.74,34.66 L209.07,34.17 L209.37,33.65 L209.63,33.11 L209.84,32.56 L209.99,32.03 L210.10,31.51 L210.20,30.97 L210.30,30.43 L210.38,29.88 L210.46,29.32 L210.52,28.76 L210.56,28.18 L210.59,27.59 L210.60,27.00" fill="none" stroke="#9467bd" stroke-width="1.0" stroke-linejoin="round" clip-path="url(#clipA)"/>
<rect x="28.2" y="7.6" width="176.1" height="27.7" rx="1.3" fill="#fff" fill-opacity="0.8" stroke="#cccccc" stroke-width="0.7"/>
<line x1="30.80" y1="12.40" x2="43.70" y2="12.40" stroke="#1f77b4" stroke-width="1.0" />
<text x="47.60" y="14.73" font-size="6.6" text-anchor="start" textLength="18.12" lengthAdjust="spacingAndGlyphs" fill="#1a1a1a" stroke="#1a1a1a" stroke-width="0.15" >Linear</text>
<line x1="30.80" y1="21.15" x2="43.70" y2="21.15" stroke="#ff7f0e" stroke-width="1.0" />
<text x="47.60" y="23.48" font-size="6.6" text-anchor="start" textLength="42.79" lengthAdjust="spacingAndGlyphs" fill="#1a1a1a" stroke="#1a1a1a" stroke-width="0.15" >Random forest</text>
<line x1="30.80" y1="29.90" x2="43.70" y2="29.90" stroke="#2ca02c" stroke-width="1.0" />
<text x="47.60" y="32.23" font-size="6.6" text-anchor="start" textLength="57.94" lengthAdjust="spacingAndGlyphs" fill="#1a1a1a" stroke="#1a1a1a" stroke-width="0.15" >Support vector (rbf)</text>
<line x1="118.00" y1="12.40" x2="130.90" y2="12.40" stroke="#d62728" stroke-width="1.0" />
<text x="134.80" y="14.73" font-size="6.6" text-anchor="start" textLength="66.29" lengthAdjust="spacingAndGlyphs" fill="#1a1a1a" stroke="#1a1a1a" stroke-width="0.15" >Support vector (linear)</text>
<line x1="118.00" y1="21.15" x2="130.90" y2="21.15" stroke="#9467bd" stroke-width="1.0" />
<text x="134.80" y="23.48" font-size="6.6" text-anchor="start" textLength="62.13" lengthAdjust="spacingAndGlyphs" fill="#1a1a1a" stroke="#1a1a1a" stroke-width="0.15" >Support vector (poly)</text>
<clipPath id="clipI"><rect x="109.6" y="55.5" width="103.4" height="45.0"/></clipPath>
<rect x="109.6" y="55.5" width="103.4" height="45.0" fill="#fff" stroke="none"/>
<path d="M205.20,100.60 L205.23,100.58 L205.27,100.56 L205.30,100.54 L205.33,100.52 L205.37,100.50 L205.40,100.48 L205.43,100.45 L205.47,100.43 L205.50,100.41 L205.53,100.39 L205.57,100.37 L205.60,100.35 L205.63,100.33 L205.67,100.31 L205.70,100.28 L205.73,100.26 L205.76,100.24 L205.80,100.22 L205.83,100.20 L205.86,100.18 L205.89,100.15 L205.93,100.13 L205.96,100.11 L205.99,100.09 L206.02,100.07 L206.06,100.04 L206.09,100.02 L206.12,100.00 L206.15,99.98 L206.18,99.95 L206.22,99.93 L206.25,99.91 L206.28,99.89 L206.31,99.86 L206.34,99.84 L206.38,99.82 L206.41,99.80 L206.44,99.77 L206.47,99.75 L206.50,99.73 L206.53,99.70 L206.57,99.68 L206.60,99.66 L206.63,99.63 L206.66,99.61 L206.69,99.59 L206.72,99.56 L206.75,99.54 L206.78,99.52 L206.81,99.49 L206.85,99.47 L206.88,99.45 L206.91,99.42 L206.94,99.40 L206.97,99.38 L207.00,99.35 L207.03,99.33 L207.06,99.30 L207.09,99.28 L207.12,99.26 L207.15,99.23 L207.18,99.21 L207.21,99.18 L207.24,99.16 L207.27,99.13 L207.30,99.11 L207.33,99.09 L207.36,99.06 L207.39,99.04 L207.42,99.01 L207.45,98.99 L207.48,98.96 L207.51,98.94 L207.54,98.91 L207.57,98.89 L207.59,98.86 L207.62,98.84 L207.65,98.81 L207.68,98.79 L207.71,98.76 L207.74,98.74 L207.77,98.71 L207.80,98.69 L207.82,98.66 L207.85,98.63 L207.88,98.61 L207.91,98.58 L207.94,98.56 L207.97,98.53 L207.99,98.51 L208.02,98.48 L208.05,98.45 L208.08,98.43 L208.11,98.40 L208.13,98.38 L208.16,98.35 L208.19,98.32 L208.22,98.30 L208.25,98.27 L208.27,98.24 L208.30,98.22 L208.33,98.19 L208.36,98.16 L208.39,98.14 L208.41,98.11 L208.44,98.08 L208.47,98.06 L208.50,98.03 L208.53,98.00 L208.55,97.97 L208.58,97.95 L208.61,97.92 L208.64,97.89 L208.66,97.86 L208.69,97.84 L208.72,97.81 L208.75,97.78 L208.77,97.75 L208.80,97.73 L208.83,97.70 L208.86,97.67 L208.88,97.64 L208.91,97.61 L208.94,97.59 L208.97,97.56 L208.99,97.53 L209.02,97.50 L209.05,97.47 L209.08,97.44 L209.10,97.42 L209.13,97.39 L209.16,97.36 L209.18,97.33 L209.21,97.30 L209.24,97.27 L209.27,97.24 L209.29,97.21 L209.32,97.18 L209.35,97.16 L209.37,97.13 L209.40,97.10 L209.43,97.07 L209.45,97.04 L209.48,97.01 L209.50,96.98 L209.53,96.95 L209.56,96.92 L209.58,96.89 L209.61,96.86 L209.64,96.83 L209.66,96.80 L209.69,96.77 L209.71,96.74 L209.74,96.71 L209.76,96.68 L209.79,96.65 L209.82,96.62 L209.84,96.59 L209.87,96.56 L209.89,96.53 L209.92,96.50 L209.94,96.47 L209.97,96.44 L209.99,96.41 L210.02,96.38 L210.04,96.35 L210.07,96.32 L210.09,96.29 L210.11,96.26 L210.14,96.23 L210.16,96.20 L210.19,96.17 L210.21,96.14 L210.23,96.11 L210.26,96.07 L210.28,96.04 L210.31,96.01 L210.33,95.98 L210.35,95.95 L210.38,95.92 L210.40,95.89 L210.42,95.86 L210.45,95.83 L210.47,95.79 L210.49,95.76 L210.51,95.73 L210.54,95.70 L210.56,95.67 L210.58,95.64 L210.60,95.61 L210.63,95.57 L210.65,95.54 L210.67,95.51 L210.69,95.48 L210.71,95.45 L210.73,95.42 L210.75,95.38 L210.78,95.35 L210.80,95.32 L210.82,95.29 L210.84,95.26 L210.86,95.23 L210.88,95.19 L210.90,95.16 L210.92,95.13 L210.94,95.10 L210.96,95.06 L210.98,95.03 L211.00,95.00 L211.02,94.97 L211.04,94.94 L211.06,94.90 L211.08,94.87 L211.10,94.84 L211.12,94.81 L211.14,94.77 L211.16,94.74 L211.18,94.71 L211.20,94.67 L211.22,94.64 L211.24,94.61 L211.26,94.57 L211.28,94.54 L211.30,94.51 L211.32,94.47 L211.34,94.44 L211.36,94.41 L211.38,94.37 L211.40,94.34 L211.42,94.31 L211.44,94.27 L211.46,94.24 L211.47,94.20 L211.49,94.17 L211.51,94.13 L211.53,94.10 L211.55,94.07 L211.57,94.03 L211.59,94.00 L211.61,93.96 L211.63,93.93 L211.65,93.89 L211.67,93.86 L211.69,93.82 L211.71,93.79 L211.73,93.75 L211.75,93.72 L211.76,93.68 L211.78,93.65 L211.80,93.61 L211.82,93.58 L211.84,93.54 L211.86,93.51 L211.87,93.47 L211.89,93.44 L211.91,93.40 L211.93,93.37 L211.95,93.33 L211.96,93.29 L211.98,93.26 L212.00,93.22 L212.02,93.19 L212.03,93.15 L212.05,93.12 L212.07,93.08 L212.08,93.04 L212.10,93.01 L212.12,92.97 L212.13,92.94 L212.15,92.90 L212.16,92.86 L212.18,92.83 L212.20,92.79 L212.21,92.75 L212.23,92.72 L212.24,92.68 L212.26,92.65 L212.27,92.61 L212.28,92.57 L212.30,92.54 L212.31,92.50 L212.33,92.46 L212.34,92.43 L212.35,92.39 L212.37,92.35 L212.38,92.32 L212.39,92.28 L212.40,92.24 L212.42,92.21 L212.43,92.17 L212.44,92.13 L212.45,92.10 L212.46,92.06 L212.47,92.02 L212.48,91.99 L212.49,91.95 L212.50,91.91 L212.51,91.88 L212.52,91.84 L212.53,91.80 L212.54,91.77 L212.55,91.73 L212.56,91.69 L212.57,91.66 L212.58,91.62 L212.58,91.58 L212.59,91.54 L212.60,91.51 L212.61,91.47 L212.61,91.43 L212.62,91.40 L212.63,91.36 L212.63,91.32 L212.64,91.29 L212.65,91.25 L212.65,91.21 L212.66,91.17 L212.67,91.14 L212.67,91.10 L212.68,91.06 L212.69,91.03 L212.69,90.99 L212.70,90.95 L212.71,90.91 L212.71,90.88 L212.72,90.84 L212.73,90.80 L212.73,90.76 L212.74,90.72 L212.74,90.69 L212.75,90.65 L212.76,90.61 L212.76,90.57 L212.77,90.54 L212.78,90.50 L212.78,90.46 L212.79,90.42 L212.79,90.38 L212.80,90.35 L212.80,90.31 L212.81,90.27 L212.82,90.23 L212.82,90.19 L212.83,90.16 L212.83,90.12 L212.84,90.08 L212.84,90.04 L212.85,90.00 L212.85,89.96 L212.86,89.93 L212.86,89.89 L212.87,89.85 L212.87,89.81 L212.88,89.77 L212.88,89.73 L212.89,89.69 L212.89,89.66 L212.90,89.62 L212.90,89.58 L212.91,89.54 L212.91,89.50 L212.92,89.46 L212.92,89.42 L212.92,89.38 L212.93,89.34 L212.93,89.31 L212.94,89.27 L212.94,89.23 L212.94,89.19 L212.95,89.15 L212.95,89.11 L212.95,89.07 L212.96,89.03 L212.96,88.99 L212.96,88.95 L212.97,88.91 L212.97,88.87 L212.97,88.84 L212.97,88.80 L212.98,88.76 L212.98,88.72 L212.98,88.68 L212.98,88.64 L212.99,88.60 L212.99,88.56 L212.99,88.52 L212.99,88.48 L212.99,88.44 L212.99,88.40 L212.99,88.36 L213.00,88.32 L213.00,88.28 L213.00,88.24 L213.00,88.20 L213.00,88.16 L213.00,88.12 L213.00,88.08 L213.00,88.04 L213.00,88.00" fill="none" stroke="#ff7f0e" stroke-width="0.5" stroke-linejoin="round" clip-path="url(#clipI)"/>
<path d="M124.00,100.60 L124.25,100.60 L124.51,100.59 L124.76,100.59 L125.02,100.59 L125.27,100.58 L125.52,100.58 L125.78,100.58 L126.03,100.57 L126.28,100.57 L126.54,100.56 L126.79,100.56 L127.04,100.56 L127.30,100.55 L127.55,100.55 L127.81,100.54 L128.06,100.54 L128.31,100.53 L128.57,100.53 L128.82,100.52 L129.07,100.52 L129.33,100.51 L129.58,100.51 L129.84,100.50 L130.09,100.49 L130.34,100.49 L130.60,100.48 L130.85,100.48 L131.10,100.47 L131.36,100.46 L131.61,100.46 L131.86,100.45 L132.12,100.44 L132.37,100.44 L132.63,100.43 L132.88,100.42 L133.13,100.42 L133.39,100.41 L133.64,100.40 L133.89,100.39 L134.15,100.39 L134.40,100.38 L134.65,100.37 L134.91,100.36 L135.16,100.36 L135.42,100.35 L135.67,100.34 L135.92,100.33 L136.18,100.33 L136.43,100.32 L136.68,100.31 L136.94,100.30 L137.19,100.29 L137.44,100.29 L137.70,100.28 L137.95,100.27 L138.20,100.26 L138.46,100.25 L138.71,100.24 L138.96,100.24 L139.22,100.23 L139.47,100.22 L139.72,100.21 L139.98,100.20 L140.23,100.19 L140.48,100.18 L140.74,100.17 L140.99,100.16 L141.25,100.15 L141.50,100.14 L141.75,100.13 L142.01,100.12 L142.26,100.11 L142.51,100.10 L142.77,100.09 L143.02,100.07 L143.27,100.06 L143.53,100.05 L143.78,100.04 L144.03,100.02 L144.28,100.01 L144.54,100.00 L144.79,99.98 L145.04,99.97 L145.30,99.95 L145.55,99.94 L145.80,99.92 L146.06,99.91 L146.31,99.89 L146.56,99.88 L146.82,99.86 L147.07,99.85 L147.32,99.83 L147.58,99.81 L147.83,99.80 L148.08,99.78 L148.34,99.77 L148.59,99.75 L148.84,99.73 L149.10,99.71 L149.35,99.70 L149.60,99.68 L149.86,99.66 L150.11,99.65 L150.36,99.63 L150.61,99.61 L150.87,99.59 L151.12,99.57 L151.37,99.56 L151.63,99.54 L151.88,99.52 L152.13,99.50 L152.39,99.49 L152.64,99.47 L152.89,99.45 L153.15,99.43 L153.40,99.41 L153.65,99.39 L153.91,99.38 L154.16,99.36 L154.41,99.34 L154.66,99.32 L154.92,99.30 L155.17,99.28 L155.42,99.27 L155.68,99.25 L155.93,99.23 L156.18,99.21 L156.44,99.19 L156.69,99.18 L156.94,99.16 L157.20,99.14 L157.45,99.12 L157.70,99.10 L157.96,99.09 L158.21,99.07 L158.46,99.05 L158.72,99.03 L158.97,99.02 L159.22,99.00 L159.47,98.98 L159.73,98.96 L159.98,98.95 L160.23,98.93 L160.49,98.91 L160.74,98.90 L160.99,98.88 L161.25,98.87 L161.50,98.85 L161.75,98.83 L162.01,98.82 L162.26,98.80 L162.51,98.79 L162.77,98.77 L163.02,98.76 L163.27,98.74 L163.53,98.73 L163.78,98.71 L164.03,98.70 L164.29,98.69 L164.54,98.67 L164.79,98.66 L165.05,98.65 L165.30,98.63 L165.55,98.62 L165.81,98.61 L166.06,98.60 L166.31,98.59 L166.57,98.57 L166.82,98.56 L167.07,98.55 L167.33,98.54 L167.58,98.53 L167.83,98.52 L168.09,98.51 L168.34,98.50 L168.60,98.49 L168.85,98.48 L169.10,98.47 L169.36,98.46 L169.61,98.45 L169.86,98.45 L170.12,98.44 L170.37,98.43 L170.63,98.42 L170.88,98.41 L171.13,98.40 L171.39,98.40 L171.64,98.39 L171.90,98.38 L172.15,98.37 L172.40,98.36 L172.66,98.36 L172.91,98.35 L173.17,98.34 L173.42,98.33 L173.67,98.33 L173.93,98.32 L174.18,98.31 L174.44,98.30 L174.69,98.29 L174.94,98.29 L175.20,98.28 L175.45,98.27 L175.70,98.26 L175.96,98.25 L176.21,98.25 L176.47,98.24 L176.72,98.23 L176.97,98.22 L177.23,98.21 L177.48,98.20 L177.73,98.19 L177.99,98.19 L178.24,98.18 L178.49,98.17 L178.75,98.16 L179.00,98.15 L179.25,98.14 L179.51,98.13 L179.76,98.12 L180.01,98.11 L180.27,98.10 L180.52,98.08 L180.77,98.07 L181.03,98.06 L181.28,98.05 L181.53,98.04 L181.79,98.02 L182.04,98.01 L182.29,98.00 L182.54,97.98 L182.80,97.97 L183.05,97.96 L183.30,97.94 L183.55,97.93 L183.81,97.91 L184.06,97.90 L184.31,97.88 L184.56,97.86 L184.82,97.84 L185.07,97.83 L185.32,97.80 L185.57,97.78 L185.82,97.76 L186.08,97.74 L186.33,97.72 L186.58,97.69 L186.83,97.67 L187.09,97.64 L187.34,97.61 L187.59,97.59 L187.85,97.56 L188.10,97.53 L188.35,97.50 L188.60,97.47 L188.86,97.44 L189.11,97.41 L189.36,97.37 L189.61,97.34 L189.87,97.31 L190.12,97.27 L190.37,97.24 L190.62,97.20 L190.87,97.16 L191.13,97.13 L191.38,97.09 L191.63,97.05 L191.88,97.01 L192.13,96.97 L192.39,96.93 L192.64,96.89 L192.89,96.85 L193.14,96.81 L193.39,96.77 L193.64,96.72 L193.89,96.68 L194.14,96.64 L194.39,96.59 L194.64,96.55 L194.90,96.50 L195.15,96.46 L195.40,96.41 L195.65,96.37 L195.90,96.32 L196.15,96.27 L196.39,96.22 L196.64,96.18 L196.89,96.13 L197.14,96.08 L197.39,96.03 L197.64,95.98 L197.89,95.93 L198.14,95.88 L198.38,95.83 L198.63,95.78 L198.88,95.73 L199.13,95.68 L199.37,95.63 L199.62,95.58 L199.87,95.53 L200.11,95.48 L200.36,95.42 L200.61,95.37 L200.86,95.32 L201.12,95.26 L201.37,95.21 L201.63,95.15 L201.88,95.10 L202.14,95.04 L202.40,94.98 L202.65,94.92 L202.91,94.86 L203.17,94.79 L203.42,94.73 L203.68,94.66 L203.93,94.60 L204.19,94.53 L204.44,94.46 L204.69,94.38 L204.94,94.31 L205.19,94.23 L205.43,94.16 L205.67,94.08 L205.91,93.99 L206.15,93.91 L206.39,93.82 L206.62,93.73 L206.85,93.64 L207.07,93.55 L207.29,93.45 L207.51,93.35 L207.72,93.25 L207.93,93.14 L208.13,93.04 L208.33,92.92 L208.54,92.80 L208.75,92.66 L208.95,92.52 L209.16,92.36 L209.37,92.19 L209.58,92.02 L209.78,91.84 L209.98,91.65 L210.18,91.46 L210.36,91.26 L210.54,91.05 L210.71,90.84 L210.87,90.63 L211.02,90.42 L211.16,90.21 L211.28,89.99 L211.39,89.78 L211.48,89.56 L211.55,89.35 L211.63,89.13 L211.70,88.90 L211.77,88.67 L211.83,88.43 L211.90,88.18 L211.95,87.93 L212.01,87.68 L212.06,87.42 L212.11,87.17 L212.16,86.91 L212.21,86.65 L212.25,86.39 L212.28,86.13 L212.32,85.87 L212.34,85.61 L212.37,85.35 L212.39,85.10 L212.41,84.85 L212.43,84.59 L212.45,84.34 L212.47,84.09 L212.48,83.84 L212.50,83.59 L212.51,83.34 L212.53,83.08 L212.55,82.83 L212.56,82.58 L212.57,82.33 L212.59,82.07 L212.60,81.82 L212.61,81.57 L212.62,81.31 L212.63,81.06 L212.64,80.81 L212.65,80.55 L212.66,80.30 L212.67,80.04 L212.68,79.79 L212.68,79.53 L212.69,79.28 L212.69,79.02 L212.70,78.77 L212.70,78.51 L212.70,78.26 L212.70,78.00" fill="none" stroke="#2ca02c" stroke-width="0.5" stroke-linejoin="round" clip-path="url(#clipI)"/>
<path d="M180.50,100.60 L180.60,100.58 L180.70,100.57 L180.80,100.55 L180.90,100.53 L181.00,100.52 L181.10,100.50 L181.20,100.48 L181.30,100.47 L181.40,100.45 L181.49,100.43 L181.59,100.42 L181.69,100.40 L181.79,100.38 L181.89,100.37 L181.99,100.35 L182.09,100.33 L182.19,100.32 L182.29,100.30 L182.39,100.28 L182.49,100.27 L182.59,100.25 L182.69,100.23 L182.79,100.22 L182.89,100.20 L182.99,100.18 L183.09,100.17 L183.19,100.15 L183.28,100.13 L183.38,100.12 L183.48,100.10 L183.58,100.08 L183.68,100.07 L183.78,100.05 L183.88,100.03 L183.98,100.02 L184.08,100.00 L184.18,99.98 L184.28,99.97 L184.38,99.95 L184.48,99.93 L184.58,99.92 L184.68,99.90 L184.78,99.88 L184.88,99.86 L184.97,99.85 L185.07,99.83 L185.17,99.81 L185.27,99.80 L185.37,99.78 L185.47,99.76 L185.57,99.75 L185.67,99.73 L185.77,99.71 L185.87,99.70 L185.97,99.68 L186.07,99.66 L186.17,99.65 L186.27,99.63 L186.37,99.61 L186.47,99.60 L186.57,99.58 L186.67,99.56 L186.76,99.55 L186.86,99.53 L186.96,99.51 L187.06,99.50 L187.16,99.48 L187.26,99.46 L187.36,99.45 L187.46,99.43 L187.56,99.41 L187.66,99.40 L187.76,99.38 L187.86,99.36 L187.96,99.35 L188.06,99.33 L188.16,99.31 L188.26,99.29 L188.36,99.28 L188.46,99.26 L188.55,99.24 L188.65,99.23 L188.75,99.21 L188.85,99.19 L188.95,99.18 L189.05,99.16 L189.15,99.14 L189.25,99.13 L189.35,99.11 L189.45,99.09 L189.55,99.08 L189.65,99.06 L189.75,99.04 L189.85,99.03 L189.95,99.01 L190.05,98.99 L190.15,98.98 L190.25,98.96 L190.34,98.94 L190.44,98.93 L190.54,98.91 L190.64,98.89 L190.74,98.88 L190.84,98.86 L190.94,98.85 L191.04,98.83 L191.14,98.81 L191.24,98.80 L191.34,98.78 L191.44,98.77 L191.54,98.75 L191.64,98.74 L191.74,98.72 L191.84,98.71 L191.94,98.69 L192.04,98.68 L192.15,98.66 L192.25,98.65 L192.35,98.63 L192.45,98.62 L192.55,98.60 L192.65,98.59 L192.75,98.57 L192.85,98.56 L192.95,98.54 L193.05,98.53 L193.15,98.52 L193.25,98.50 L193.35,98.49 L193.45,98.47 L193.55,98.46 L193.65,98.44 L193.75,98.43 L193.85,98.41 L193.95,98.40 L194.05,98.38 L194.15,98.37 L194.25,98.35 L194.35,98.34 L194.45,98.32 L194.55,98.31 L194.66,98.29 L194.76,98.28 L194.86,98.26 L194.96,98.25 L195.06,98.23 L195.16,98.22 L195.26,98.20 L195.36,98.19 L195.46,98.17 L195.56,98.16 L195.66,98.14 L195.76,98.13 L195.86,98.11 L195.96,98.09 L196.06,98.08 L196.16,98.06 L196.26,98.05 L196.36,98.03 L196.45,98.01 L196.55,98.00 L196.65,97.98 L196.75,97.96 L196.85,97.95 L196.95,97.93 L197.05,97.91 L197.15,97.89 L197.25,97.88 L197.35,97.86 L197.45,97.84 L197.55,97.82 L197.64,97.80 L197.74,97.78 L197.84,97.77 L197.94,97.75 L198.04,97.73 L198.14,97.71 L198.24,97.69 L198.33,97.67 L198.43,97.65 L198.53,97.63 L198.63,97.61 L198.73,97.59 L198.82,97.57 L198.92,97.55 L199.02,97.53 L199.12,97.51 L199.21,97.48 L199.31,97.46 L199.41,97.44 L199.50,97.42 L199.60,97.40 L199.70,97.37 L199.79,97.35 L199.89,97.33 L199.99,97.30 L200.08,97.28 L200.18,97.25 L200.28,97.23 L200.37,97.20 L200.47,97.18 L200.57,97.15 L200.66,97.13 L200.76,97.10 L200.86,97.07 L200.95,97.04 L201.05,97.01 L201.15,96.99 L201.24,96.96 L201.34,96.93 L201.44,96.90 L201.53,96.87 L201.63,96.84 L201.72,96.80 L201.82,96.77 L201.92,96.74 L202.01,96.71 L202.11,96.67 L202.21,96.64 L202.30,96.61 L202.40,96.57 L202.49,96.54 L202.59,96.50 L202.69,96.47 L202.78,96.43 L202.88,96.40 L202.97,96.36 L203.07,96.32 L203.16,96.29 L203.26,96.25 L203.36,96.21 L203.45,96.18 L203.55,96.14 L203.64,96.10 L203.73,96.06 L203.83,96.02 L203.92,95.98 L204.02,95.94 L204.11,95.90 L204.21,95.86 L204.30,95.82 L204.39,95.78 L204.49,95.74 L204.58,95.70 L204.67,95.66 L204.77,95.61 L204.86,95.57 L204.95,95.53 L205.04,95.49 L205.14,95.44 L205.23,95.40 L205.32,95.36 L205.41,95.31 L205.50,95.27 L205.59,95.23 L205.68,95.18 L205.77,95.14 L205.86,95.09 L205.95,95.05 L206.04,95.00 L206.13,94.96 L206.22,94.91 L206.31,94.87 L206.40,94.82 L206.49,94.77 L206.57,94.73 L206.66,94.68 L206.75,94.64 L206.84,94.59 L206.92,94.54 L207.01,94.50 L207.10,94.45 L207.18,94.40 L207.27,94.35 L207.36,94.30 L207.44,94.25 L207.53,94.20 L207.62,94.15 L207.71,94.10 L207.80,94.05 L207.89,94.00 L207.98,93.94 L208.06,93.89 L208.15,93.83 L208.24,93.78 L208.33,93.72 L208.42,93.67 L208.51,93.61 L208.59,93.56 L208.68,93.50 L208.77,93.44 L208.85,93.38 L208.94,93.32 L209.03,93.26 L209.11,93.20 L209.20,93.14 L209.28,93.08 L209.36,93.02 L209.45,92.96 L209.53,92.89 L209.61,92.83 L209.69,92.77 L209.77,92.70 L209.85,92.64 L209.93,92.57 L210.01,92.51 L210.08,92.44 L210.16,92.37 L210.23,92.31 L210.31,92.24 L210.38,92.17 L210.45,92.10 L210.52,92.03 L210.59,91.96 L210.66,91.89 L210.72,91.82 L210.79,91.75 L210.85,91.68 L210.91,91.61 L210.97,91.53 L211.03,91.46 L211.09,91.39 L211.15,91.31 L211.21,91.23 L211.27,91.15 L211.33,91.07 L211.39,90.99 L211.45,90.91 L211.51,90.83 L211.57,90.74 L211.63,90.66 L211.69,90.57 L211.74,90.48 L211.80,90.39 L211.86,90.30 L211.91,90.21 L211.96,90.12 L212.02,90.03 L212.07,89.94 L212.12,89.84 L212.17,89.75 L212.21,89.66 L212.26,89.56 L212.30,89.47 L212.34,89.37 L212.38,89.28 L212.41,89.18 L212.45,89.09 L212.48,88.99 L212.51,88.90 L212.54,88.80 L212.56,88.71 L212.58,88.61 L212.60,88.52 L212.61,88.42 L212.63,88.33 L212.64,88.24 L212.66,88.14 L212.67,88.04 L212.69,87.95 L212.70,87.85 L212.71,87.76 L212.73,87.66 L212.74,87.56 L212.76,87.47 L212.77,87.37 L212.78,87.27 L212.79,87.17 L212.81,87.08 L212.82,86.98 L212.83,86.88 L212.84,86.78 L212.85,86.68 L212.86,86.58 L212.87,86.48 L212.88,86.38 L212.89,86.28 L212.90,86.18 L212.91,86.08 L212.92,85.98 L212.93,85.88 L212.93,85.78 L212.94,85.67 L212.95,85.57 L212.95,85.47 L212.96,85.37 L212.97,85.26 L212.97,85.16 L212.98,85.05 L212.98,84.95 L212.98,84.85 L212.99,84.74 L212.99,84.64 L212.99,84.53 L213.00,84.43 L213.00,84.32 L213.00,84.21 L213.00,84.11 L213.00,84.00" fill="none" stroke="#d62728" stroke-width="0.5" stroke-linejoin="round" clip-path="url(#clipI)"/>
<path d="M141.00,100.60 L141.22,100.53 L141.44,100.47 L141.66,100.40 L141.88,100.34 L142.10,100.27 L142.32,100.21 L142.54,100.14 L142.76,100.08 L142.98,100.01 L143.20,99.95 L143.42,99.89 L143.65,99.82 L143.87,99.76 L144.09,99.69 L144.31,99.63 L144.53,99.56 L144.75,99.50 L144.97,99.43 L145.19,99.37 L145.41,99.31 L145.63,99.24 L145.85,99.18 L146.07,99.12 L146.29,99.05 L146.51,98.99 L146.74,98.93 L146.96,98.86 L147.18,98.80 L147.40,98.74 L147.62,98.67 L147.84,98.61 L148.06,98.55 L148.28,98.48 L148.50,98.42 L148.72,98.36 L148.95,98.30 L149.17,98.23 L149.39,98.17 L149.61,98.11 L149.83,98.05 L150.05,97.99 L150.27,97.92 L150.49,97.86 L150.72,97.80 L150.94,97.74 L151.16,97.68 L151.38,97.62 L151.60,97.56 L151.82,97.50 L152.05,97.44 L152.27,97.38 L152.49,97.32 L152.71,97.26 L152.93,97.20 L153.16,97.14 L153.38,97.09 L153.60,97.03 L153.82,96.97 L154.05,96.91 L154.27,96.85 L154.49,96.79 L154.71,96.74 L154.94,96.68 L155.16,96.62 L155.38,96.56 L155.60,96.50 L155.83,96.45 L156.05,96.39 L156.27,96.33 L156.49,96.27 L156.72,96.22 L156.94,96.16 L157.16,96.10 L157.38,96.04 L157.61,95.99 L157.83,95.93 L158.05,95.87 L158.28,95.81 L158.50,95.76 L158.72,95.70 L158.94,95.64 L159.17,95.58 L159.39,95.52 L159.61,95.47 L159.83,95.41 L160.05,95.35 L160.28,95.29 L160.50,95.23 L160.72,95.17 L160.94,95.11 L161.17,95.05 L161.39,95.00 L161.61,94.94 L161.83,94.88 L162.05,94.82 L162.27,94.76 L162.50,94.70 L162.72,94.63 L162.94,94.57 L163.16,94.51 L163.38,94.45 L163.60,94.39 L163.82,94.33 L164.05,94.27 L164.27,94.20 L164.49,94.14 L164.71,94.08 L164.93,94.01 L165.15,93.95 L165.37,93.89 L165.59,93.82 L165.81,93.76 L166.03,93.69 L166.25,93.63 L166.47,93.56 L166.69,93.49 L166.91,93.43 L167.13,93.36 L167.35,93.30 L167.57,93.23 L167.79,93.16 L168.01,93.09 L168.23,93.03 L168.45,92.96 L168.67,92.89 L168.89,92.83 L169.11,92.76 L169.33,92.69 L169.54,92.62 L169.76,92.55 L169.98,92.48 L170.20,92.41 L170.42,92.35 L170.64,92.28 L170.86,92.21 L171.08,92.14 L171.30,92.07 L171.52,92.00 L171.74,91.93 L171.96,91.86 L172.17,91.79 L172.39,91.72 L172.61,91.65 L172.83,91.57 L173.05,91.50 L173.27,91.43 L173.49,91.36 L173.70,91.29 L173.92,91.22 L174.14,91.14 L174.36,91.07 L174.58,91.00 L174.80,90.93 L175.01,90.85 L175.23,90.78 L175.45,90.71 L175.67,90.64 L175.89,90.56 L176.11,90.49 L176.32,90.41 L176.54,90.34 L176.76,90.27 L176.98,90.19 L177.19,90.12 L177.41,90.04 L177.63,89.97 L177.85,89.89 L178.06,89.82 L178.28,89.74 L178.50,89.67 L178.72,89.59 L178.93,89.52 L179.15,89.44 L179.37,89.37 L179.58,89.29 L179.80,89.21 L180.02,89.14 L180.23,89.06 L180.45,88.98 L180.67,88.91 L180.88,88.83 L181.10,88.75 L181.32,88.67 L181.53,88.60 L181.75,88.52 L181.96,88.44 L182.18,88.36 L182.40,88.29 L182.61,88.21 L182.83,88.13 L183.04,88.05 L183.26,87.97 L183.48,87.89 L183.69,87.81 L183.91,87.73 L184.12,87.66 L184.34,87.58 L184.55,87.50 L184.77,87.42 L184.98,87.34 L185.20,87.26 L185.42,87.18 L185.63,87.10 L185.85,87.02 L186.06,86.94 L186.28,86.86 L186.50,86.78 L186.71,86.69 L186.93,86.61 L187.14,86.53 L187.36,86.45 L187.57,86.37 L187.79,86.28 L188.00,86.20 L188.22,86.11 L188.43,86.03 L188.64,85.94 L188.86,85.86 L189.07,85.77 L189.28,85.69 L189.50,85.60 L189.71,85.51 L189.92,85.42 L190.13,85.33 L190.34,85.24 L190.55,85.15 L190.76,85.06 L190.97,84.97 L191.18,84.87 L191.39,84.78 L191.60,84.69 L191.81,84.59 L192.01,84.49 L192.22,84.40 L192.43,84.30 L192.63,84.20 L192.84,84.10 L193.05,84.00 L193.25,83.89 L193.46,83.79 L193.66,83.69 L193.87,83.58 L194.07,83.48 L194.27,83.37 L194.48,83.26 L194.68,83.16 L194.89,83.05 L195.09,82.94 L195.29,82.83 L195.49,82.72 L195.70,82.60 L195.90,82.49 L196.10,82.38 L196.30,82.26 L196.50,82.15 L196.70,82.03 L196.90,81.92 L197.10,81.80 L197.30,81.68 L197.49,81.57 L197.69,81.45 L197.89,81.33 L198.09,81.21 L198.28,81.09 L198.48,80.97 L198.67,80.85 L198.87,80.73 L199.06,80.60 L199.26,80.48 L199.45,80.36 L199.64,80.23 L199.83,80.11 L200.02,79.98 L200.22,79.86 L200.41,79.73 L200.60,79.61 L200.79,79.48 L200.99,79.35 L201.18,79.23 L201.38,79.10 L201.57,78.97 L201.77,78.84 L201.96,78.71 L202.15,78.58 L202.35,78.44 L202.54,78.31 L202.73,78.18 L202.92,78.04 L203.11,77.90 L203.30,77.77 L203.48,77.63 L203.67,77.49 L203.85,77.35 L204.03,77.20 L204.21,77.06 L204.39,76.91 L204.56,76.77 L204.74,76.62 L204.91,76.47 L205.07,76.31 L205.24,76.16 L205.40,76.01 L205.56,75.85 L205.72,75.69 L205.87,75.53 L206.02,75.36 L206.17,75.20 L206.31,75.02 L206.46,74.85 L206.60,74.67 L206.75,74.49 L206.89,74.31 L207.03,74.13 L207.16,73.94 L207.30,73.75 L207.43,73.56 L207.57,73.37 L207.70,73.17 L207.82,72.98 L207.95,72.78 L208.08,72.58 L208.20,72.38 L208.32,72.19 L208.44,71.99 L208.56,71.79 L208.67,71.59 L208.79,71.39 L208.90,71.19 L209.01,70.99 L209.11,70.79 L209.22,70.59 L209.33,70.39 L209.44,70.18 L209.54,69.98 L209.65,69.77 L209.76,69.57 L209.86,69.36 L209.96,69.15 L210.06,68.94 L210.16,68.73 L210.26,68.52 L210.35,68.31 L210.45,68.09 L210.54,67.88 L210.62,67.67 L210.71,67.45 L210.79,67.24 L210.87,67.02 L210.95,66.81 L211.02,66.59 L211.09,66.37 L211.16,66.15 L211.22,65.94 L211.28,65.72 L211.34,65.50 L211.39,65.28 L211.45,65.06 L211.51,64.84 L211.56,64.61 L211.62,64.39 L211.67,64.17 L211.72,63.94 L211.77,63.72 L211.82,63.49 L211.86,63.27 L211.91,63.04 L211.96,62.81 L212.00,62.58 L212.04,62.36 L212.08,62.13 L212.12,61.90 L212.16,61.67 L212.20,61.44 L212.23,61.22 L212.27,60.99 L212.30,60.76 L212.33,60.53 L212.36,60.30 L212.39,60.08 L212.42,59.85 L212.45,59.62 L212.47,59.39 L212.50,59.17 L212.52,58.94 L212.55,58.71 L212.57,58.48 L212.60,58.25 L212.62,58.03 L212.64,57.80 L212.66,57.57 L212.68,57.34 L212.70,57.11 L212.72,56.88 L212.73,56.65 L212.75,56.42 L212.76,56.19 L212.78,55.96 L212.79,55.73 L212.80,55.50" fill="none" stroke="#9467bd" stroke-width="0.5" stroke-linejoin="round" clip-path="url(#clipI)"/>
<rect x="109.6" y="55.5" width="103.4" height="45.0" fill="none" stroke="#a6a6a6" stroke-width="0.8"/>
<rect x="202.8" y="25.6" width="12.4" height="11.8" fill="none" stroke="#000" stroke-width="1.1"/>
<line x1="202.80" y1="37.40" x2="111.50" y2="55.50" stroke="#000" stroke-width="1.1" />
<line x1="215.20" y1="37.40" x2="213.60" y2="55.50" stroke="#000" stroke-width="1.1" />
<rect x="26.10" y="4.80" width="193.40" height="101.50" fill="none" stroke="#6f6f6f" stroke-width="0.8"/>
<line x1="24.05" y1="4.80" x2="26.10" y2="4.80" stroke="#6f6f6f" stroke-width="0.8" />
<text x="22.00" y="7.03" font-size="6.4" text-anchor="end" textLength="3.71" lengthAdjust="spacingAndGlyphs" fill="#1a1a1a" stroke="#1a1a1a" stroke-width="0.15" >2</text>
<line x1="24.05" y1="21.72" x2="26.10" y2="21.72" stroke="#6f6f6f" stroke-width="0.8" />
<text x="22.00" y="23.94" font-size="6.4" text-anchor="end" textLength="3.71" lengthAdjust="spacingAndGlyphs" fill="#1a1a1a" stroke="#1a1a1a" stroke-width="0.15" >1</text>
<line x1="24.05" y1="38.63" x2="26.10" y2="38.63" stroke="#6f6f6f" stroke-width="0.8" />
<text x="22.00" y="40.86" font-size="6.4" text-anchor="end" textLength="3.71" lengthAdjust="spacingAndGlyphs" fill="#1a1a1a" stroke="#1a1a1a" stroke-width="0.15" >0</text>
<line x1="24.05" y1="55.55" x2="26.10" y2="55.55" stroke="#6f6f6f" stroke-width="0.8" />
<text x="22.00" y="57.78" font-size="6.4" text-anchor="end" textLength="8.59" lengthAdjust="spacingAndGlyphs" fill="#1a1a1a" stroke="#1a1a1a" stroke-width="0.15" >−1</text>
<line x1="24.05" y1="72.47" x2="26.10" y2="72.47" stroke="#6f6f6f" stroke-width="0.8" />
<text x="22.00" y="74.69" font-size="6.4" text-anchor="end" textLength="8.59" lengthAdjust="spacingAndGlyphs" fill="#1a1a1a" stroke="#1a1a1a" stroke-width="0.15" >−2</text>
<line x1="24.05" y1="89.38" x2="26.10" y2="89.38" stroke="#6f6f6f" stroke-width="0.8" />
<text x="22.00" y="91.61" font-size="6.4" text-anchor="end" textLength="8.59" lengthAdjust="spacingAndGlyphs" fill="#1a1a1a" stroke="#1a1a1a" stroke-width="0.15" >−3</text>
<line x1="24.05" y1="106.30" x2="26.10" y2="106.30" stroke="#6f6f6f" stroke-width="0.8" />
<text x="22.00" y="108.53" font-size="6.4" text-anchor="end" textLength="8.59" lengthAdjust="spacingAndGlyphs" fill="#1a1a1a" stroke="#1a1a1a" stroke-width="0.15" >−4</text>
<line x1="34.90" y1="106.30" x2="34.90" y2="108.35" stroke="#6f6f6f" stroke-width="0.8" />
<text x="34.90" y="115.55" font-size="6.4" text-anchor="middle" textLength="3.71" lengthAdjust="spacingAndGlyphs" fill="#1a1a1a" stroke="#1a1a1a" stroke-width="0.15" >0</text>
<line x1="68.40" y1="106.30" x2="68.40" y2="108.35" stroke="#6f6f6f" stroke-width="0.8" />
<text x="68.40" y="115.55" font-size="6.4" text-anchor="middle" textLength="22.26" lengthAdjust="spacingAndGlyphs" fill="#1a1a1a" stroke="#1a1a1a" stroke-width="0.15" >200000</text>
<line x1="101.90" y1="106.30" x2="101.90" y2="108.35" stroke="#6f6f6f" stroke-width="0.8" />
<text x="101.90" y="115.55" font-size="6.4" text-anchor="middle" textLength="22.26" lengthAdjust="spacingAndGlyphs" fill="#1a1a1a" stroke="#1a1a1a" stroke-width="0.15" >400000</text>
<line x1="135.40" y1="106.30" x2="135.40" y2="108.35" stroke="#6f6f6f" stroke-width="0.8" />
<text x="135.40" y="115.55" font-size="6.4" text-anchor="middle" textLength="22.26" lengthAdjust="spacingAndGlyphs" fill="#1a1a1a" stroke="#1a1a1a" stroke-width="0.15" >600000</text>
<line x1="168.90" y1="106.30" x2="168.90" y2="108.35" stroke="#6f6f6f" stroke-width="0.8" />
<text x="168.90" y="115.55" font-size="6.4" text-anchor="middle" textLength="22.26" lengthAdjust="spacingAndGlyphs" fill="#1a1a1a" stroke="#1a1a1a" stroke-width="0.15" >800000</text>
<line x1="202.40" y1="106.30" x2="202.40" y2="108.35" stroke="#6f6f6f" stroke-width="0.8" />
<text x="202.40" y="115.55" font-size="6.4" text-anchor="middle" textLength="25.96" lengthAdjust="spacingAndGlyphs" fill="#1a1a1a" stroke="#1a1a1a" stroke-width="0.15" >1000000</text>
<text x="122.80" y="123.40" font-size="6.6" text-anchor="middle" textLength="56.20" lengthAdjust="spacingAndGlyphs" fill="#1a1a1a" stroke="#1a1a1a" stroke-width="0.15" >Combination cases</text>
<text x="11.00" y="55.55" font-size="6.6" text-anchor="middle" textLength="46.80" lengthAdjust="spacingAndGlyphs" transform="rotate(-90 11.00 55.55)" fill="#1a1a1a" stroke="#1a1a1a" stroke-width="0.15" >R squared value</text>
<text transform="translate(1.44 11.75) scale(1.005 1)" font-family="Liberation Serif" font-weight="bold" font-size="16.2" fill="#000">A</text>
<polyline points="267.30,101.95 272.32,101.95 277.34,91.66 282.35,91.66 292.39,71.08 317.48,71.08 322.50,60.79 332.53,60.79 337.55,50.50 347.59,50.50 352.61,40.21 372.68,40.21 377.70,29.92 402.79,29.92 407.80,19.63 427.88,19.63 432.89,9.34 442.93,9.34" fill="none" stroke="#1a1a1a" stroke-width="0.95" stroke-linejoin="miter" stroke-linecap="square"/>
<circle cx="267.30" cy="62.10" r="2.15" fill="#1f77b4"/>
<circle cx="272.32" cy="78.20" r="2.15" fill="#1f77b4"/>
<circle cx="277.34" cy="67.50" r="2.15" fill="#1f77b4"/>
<circle cx="282.35" cy="48.70" r="2.15" fill="#1f77b4"/>
<circle cx="287.37" cy="49.50" r="2.15" fill="#1f77b4"/>
<circle cx="292.39" cy="46.10" r="2.15" fill="#1f77b4"/>
<circle cx="297.41" cy="64.70" r="2.15" fill="#1f77b4"/>
<circle cx="302.43" cy="43.50" r="2.15" fill="#1f77b4"/>
<circle cx="307.44" cy="61.70" r="2.15" fill="#1f77b4"/>
<circle cx="312.46" cy="45.70" r="2.15" fill="#1f77b4"/>
<circle cx="317.48" cy="47.70" r="2.15" fill="#1f77b4"/>
<circle cx="322.50" cy="55.10" r="2.15" fill="#1f77b4"/>
<circle cx="327.52" cy="52.50" r="2.15" fill="#1f77b4"/>
<circle cx="332.53" cy="21.00" r="2.15" fill="#1f77b4"/>
<circle cx="337.55" cy="55.30" r="2.15" fill="#1f77b4"/>
<circle cx="342.57" cy="83.20" r="2.15" fill="#1f77b4"/>
<circle cx="347.59" cy="78.80" r="2.15" fill="#1f77b4"/>
<circle cx="352.61" cy="55.00" r="2.15" fill="#1f77b4"/>
<circle cx="357.62" cy="46.20" r="2.15" fill="#1f77b4"/>
<circle cx="362.64" cy="54.80" r="2.15" fill="#1f77b4"/>
<circle cx="367.66" cy="16.60" r="2.15" fill="#1f77b4"/>
<circle cx="372.68" cy="41.70" r="2.15" fill="#1f77b4"/>
<circle cx="377.70" cy="30.50" r="2.15" fill="#1f77b4"/>
<circle cx="382.71" cy="40.70" r="2.15" fill="#1f77b4"/>
<circle cx="387.73" cy="78.10" r="2.15" fill="#1f77b4"/>
<circle cx="392.75" cy="28.70" r="2.15" fill="#1f77b4"/>
<circle cx="397.77" cy="34.10" r="2.15" fill="#1f77b4"/>
<circle cx="402.79" cy="80.80" r="2.15" fill="#1f77b4"/>
<circle cx="407.80" cy="25.10" r="2.15" fill="#1f77b4"/>
<circle cx="412.82" cy="63.90" r="2.15" fill="#1f77b4"/>
<circle cx="417.84" cy="18.50" r="2.15" fill="#1f77b4"/>
<circle cx="422.86" cy="58.60" r="2.15" fill="#1f77b4"/>
<circle cx="427.88" cy="52.60" r="2.15" fill="#1f77b4"/>
<circle cx="432.89" cy="15.60" r="2.15" fill="#1f77b4"/>
<circle cx="437.91" cy="41.70" r="2.15" fill="#1f77b4"/>
<circle cx="442.93" cy="34.50" r="2.15" fill="#1f77b4"/>
<rect x="258.50" y="4.80" width="193.20" height="101.60" fill="none" stroke="#6f6f6f" stroke-width="0.8"/>
<line x1="267.30" y1="106.40" x2="267.30" y2="108.45" stroke="#6f6f6f" stroke-width="0.8" />
<text x="267.30" y="115.65" font-size="6.4" text-anchor="middle" textLength="3.71" lengthAdjust="spacingAndGlyphs" fill="#1a1a1a" stroke="#1a1a1a" stroke-width="0.15" >0</text>
<line x1="292.39" y1="106.40" x2="292.39" y2="108.45" stroke="#6f6f6f" stroke-width="0.8" />
<text x="292.39" y="115.65" font-size="6.4" text-anchor="middle" textLength="3.71" lengthAdjust="spacingAndGlyphs" fill="#1a1a1a" stroke="#1a1a1a" stroke-width="0.15" >5</text>
<line x1="317.48" y1="106.40" x2="317.48" y2="108.45" stroke="#6f6f6f" stroke-width="0.8" />
<text x="317.48" y="115.65" font-size="6.4" text-anchor="middle" textLength="7.42" lengthAdjust="spacingAndGlyphs" fill="#1a1a1a" stroke="#1a1a1a" stroke-width="0.15" >10</text>
<line x1="342.57" y1="106.40" x2="342.57" y2="108.45" stroke="#6f6f6f" stroke-width="0.8" />
<text x="342.57" y="115.65" font-size="6.4" text-anchor="middle" textLength="7.42" lengthAdjust="spacingAndGlyphs" fill="#1a1a1a" stroke="#1a1a1a" stroke-width="0.15" >15</text>
<line x1="367.66" y1="106.40" x2="367.66" y2="108.45" stroke="#6f6f6f" stroke-width="0.8" />
<text x="367.66" y="115.65" font-size="6.4" text-anchor="middle" textLength="7.42" lengthAdjust="spacingAndGlyphs" fill="#1a1a1a" stroke="#1a1a1a" stroke-width="0.15" >20</text>
<line x1="392.75" y1="106.40" x2="392.75" y2="108.45" stroke="#6f6f6f" stroke-width="0.8" />
<text x="392.75" y="115.65" font-size="6.4" text-anchor="middle" textLength="7.42" lengthAdjust="spacingAndGlyphs" fill="#1a1a1a" stroke="#1a1a1a" stroke-width="0.15" >25</text>
<line x1="417.84" y1="106.40" x2="417.84" y2="108.45" stroke="#6f6f6f" stroke-width="0.8" />
<text x="417.84" y="115.65" font-size="6.4" text-anchor="middle" textLength="7.42" lengthAdjust="spacingAndGlyphs" fill="#1a1a1a" stroke="#1a1a1a" stroke-width="0.15" >30</text>
<line x1="442.93" y1="106.40" x2="442.93" y2="108.45" stroke="#6f6f6f" stroke-width="0.8" />
<text x="442.93" y="115.65" font-size="6.4" text-anchor="middle" textLength="7.42" lengthAdjust="spacingAndGlyphs" fill="#1a1a1a" stroke="#1a1a1a" stroke-width="0.15" >35</text>
<line x1="256.45" y1="101.95" x2="258.50" y2="101.95" stroke="#6f6f6f" stroke-width="0.8" />
<text x="254.40" y="104.18" font-size="6.4" text-anchor="end" textLength="3.71" lengthAdjust="spacingAndGlyphs" fill="#1a1a1a" stroke="#1a1a1a" stroke-width="0.15" >0</text>
<line x1="256.45" y1="81.37" x2="258.50" y2="81.37" stroke="#6f6f6f" stroke-width="0.8" />
<text x="254.40" y="83.60" font-size="6.4" text-anchor="end" textLength="3.71" lengthAdjust="spacingAndGlyphs" fill="#1a1a1a" stroke="#1a1a1a" stroke-width="0.15" >2</text>
<line x1="256.45" y1="60.79" x2="258.50" y2="60.79" stroke="#6f6f6f" stroke-width="0.8" />
<text x="254.40" y="63.02" font-size="6.4" text-anchor="end" textLength="3.71" lengthAdjust="spacingAndGlyphs" fill="#1a1a1a" stroke="#1a1a1a" stroke-width="0.15" >4</text>
<line x1="256.45" y1="40.21" x2="258.50" y2="40.21" stroke="#6f6f6f" stroke-width="0.8" />
<text x="254.40" y="42.44" font-size="6.4" text-anchor="end" textLength="3.71" lengthAdjust="spacingAndGlyphs" fill="#1a1a1a" stroke="#1a1a1a" stroke-width="0.15" >6</text>
<line x1="256.45" y1="19.63" x2="258.50" y2="19.63" stroke="#6f6f6f" stroke-width="0.8" />
<text x="254.40" y="21.86" font-size="6.4" text-anchor="end" textLength="3.71" lengthAdjust="spacingAndGlyphs" fill="#1a1a1a" stroke="#1a1a1a" stroke-width="0.15" >8</text>
<text x="355.10" y="123.50" font-size="6.6" text-anchor="middle" textLength="46.80" lengthAdjust="spacingAndGlyphs" fill="#1a1a1a" stroke="#1a1a1a" stroke-width="0.15" >Subject number</text>
<text x="247.00" y="55.60" font-size="6.6" text-anchor="middle" textLength="31.00" lengthAdjust="spacingAndGlyphs" transform="rotate(-90 247.00 55.60)" fill="#1a1a1a" stroke="#1a1a1a" stroke-width="0.15" >Pain score</text>
<text transform="translate(240.35 11.75) scale(0.93 1)" font-family="Liberation Serif" font-weight="bold" font-size="16.2" fill="#000">B</text>
<text x="267.70" y="14.70" font-size="6.6" text-anchor="start" textLength="44.92" lengthAdjust="spacingAndGlyphs" fill="#1a1a1a" stroke="#1a1a1a" stroke-width="0.15" >Linear (0.0347)</text>
<text x="267.70" y="21.70" font-size="6.6" textLength="40.91" lengthAdjust="spacingAndGlyphs" fill="#1a1a1a" stroke="#1a1a1a" stroke-width="0.15">*<tspan font-style="italic">ch</tspan> = <tspan font-style="italic">-0.3804</tspan></text>
<polyline points="499.90,101.95 504.92,101.95 509.94,91.66 514.95,91.66 524.99,71.08 550.08,71.08 555.10,60.79 565.13,60.79 570.15,50.50 580.19,50.50 585.21,40.21 605.28,40.21 610.30,29.92 635.39,29.92 640.40,19.63 660.48,19.63 665.49,9.34 675.53,9.34" fill="none" stroke="#1a1a1a" stroke-width="0.95" stroke-linejoin="miter" stroke-linecap="square"/>
<circle cx="499.90" cy="65.00" r="2.15" fill="#1f77b4"/>
<circle cx="504.92" cy="76.70" r="2.15" fill="#1f77b4"/>
<circle cx="509.94" cy="86.10" r="2.15" fill="#1f77b4"/>
<circle cx="514.95" cy="48.70" r="2.15" fill="#1f77b4"/>
<circle cx="519.97" cy="47.10" r="2.15" fill="#1f77b4"/>
<circle cx="524.99" cy="48.70" r="2.15" fill="#1f77b4"/>
<circle cx="530.01" cy="55.50" r="2.15" fill="#1f77b4"/>
<circle cx="535.03" cy="48.40" r="2.15" fill="#1f77b4"/>
<circle cx="540.04" cy="75.20" r="2.15" fill="#1f77b4"/>
<circle cx="545.06" cy="39.50" r="2.15" fill="#1f77b4"/>
<circle cx="550.08" cy="56.00" r="2.15" fill="#1f77b4"/>
<circle cx="555.10" cy="39.20" r="2.15" fill="#1f77b4"/>
<circle cx="560.12" cy="37.90" r="2.15" fill="#1f77b4"/>
<circle cx="565.13" cy="32.50" r="2.15" fill="#1f77b4"/>
<circle cx="570.15" cy="54.40" r="2.15" fill="#1f77b4"/>
<circle cx="575.17" cy="31.50" r="2.15" fill="#1f77b4"/>
<circle cx="580.19" cy="51.10" r="2.15" fill="#1f77b4"/>
<circle cx="585.21" cy="28.10" r="2.15" fill="#1f77b4"/>
<circle cx="590.22" cy="44.20" r="2.15" fill="#1f77b4"/>
<circle cx="595.24" cy="51.30" r="2.15" fill="#1f77b4"/>
<circle cx="600.26" cy="34.70" r="2.15" fill="#1f77b4"/>
<circle cx="605.28" cy="69.50" r="2.15" fill="#1f77b4"/>
<circle cx="610.30" cy="46.60" r="2.15" fill="#1f77b4"/>
<circle cx="615.31" cy="31.10" r="2.15" fill="#1f77b4"/>
<circle cx="620.33" cy="72.50" r="2.15" fill="#1f77b4"/>
<circle cx="625.35" cy="39.70" r="2.15" fill="#1f77b4"/>
<circle cx="630.37" cy="34.10" r="2.15" fill="#1f77b4"/>
<circle cx="635.39" cy="58.40" r="2.15" fill="#1f77b4"/>
<circle cx="640.40" cy="39.10" r="2.15" fill="#1f77b4"/>
<circle cx="645.42" cy="39.50" r="2.15" fill="#1f77b4"/>
<circle cx="650.44" cy="28.10" r="2.15" fill="#1f77b4"/>
<circle cx="655.46" cy="52.30" r="2.15" fill="#1f77b4"/>
<circle cx="660.48" cy="54.80" r="2.15" fill="#1f77b4"/>
<circle cx="665.49" cy="31.70" r="2.15" fill="#1f77b4"/>
<circle cx="670.51" cy="40.70" r="2.15" fill="#1f77b4"/>
<circle cx="675.53" cy="37.10" r="2.15" fill="#1f77b4"/>
<rect x="491.10" y="4.80" width="193.00" height="101.60" fill="none" stroke="#6f6f6f" stroke-width="0.8"/>
<line x1="499.90" y1="106.40" x2="499.90" y2="108.45" stroke="#6f6f6f" stroke-width="0.8" />
<text x="499.90" y="115.65" font-size="6.4" text-anchor="middle" textLength="3.71" lengthAdjust="spacingAndGlyphs" fill="#1a1a1a" stroke="#1a1a1a" stroke-width="0.15" >0</text>
<line x1="524.99" y1="106.40" x2="524.99" y2="108.45" stroke="#6f6f6f" stroke-width="0.8" />
<text x="524.99" y="115.65" font-size="6.4" text-anchor="middle" textLength="3.71" lengthAdjust="spacingAndGlyphs" fill="#1a1a1a" stroke="#1a1a1a" stroke-width="0.15" >5</text>
<line x1="550.08" y1="106.40" x2="550.08" y2="108.45" stroke="#6f6f6f" stroke-width="0.8" />
<text x="550.08" y="115.65" font-size="6.4" text-anchor="middle" textLength="7.42" lengthAdjust="spacingAndGlyphs" fill="#1a1a1a" stroke="#1a1a1a" stroke-width="0.15" >10</text>
<line x1="575.17" y1="106.40" x2="575.17" y2="108.45" stroke="#6f6f6f" stroke-width="0.8" />
<text x="575.17" y="115.65" font-size="6.4" text-anchor="middle" textLength="7.42" lengthAdjust="spacingAndGlyphs" fill="#1a1a1a" stroke="#1a1a1a" stroke-width="0.15" >15</text>
<line x1="600.26" y1="106.40" x2="600.26" y2="108.45" stroke="#6f6f6f" stroke-width="0.8" />
<text x="600.26" y="115.65" font-size="6.4" text-anchor="middle" textLength="7.42" lengthAdjust="spacingAndGlyphs" fill="#1a1a1a" stroke="#1a1a1a" stroke-width="0.15" >20</text>
<line x1="625.35" y1="106.40" x2="625.35" y2="108.45" stroke="#6f6f6f" stroke-width="0.8" />
<text x="625.35" y="115.65" font-size="6.4" text-anchor="middle" textLength="7.42" lengthAdjust="spacingAndGlyphs" fill="#1a1a1a" stroke="#1a1a1a" stroke-width="0.15" >25</text>
<line x1="650.44" y1="106.40" x2="650.44" y2="108.45" stroke="#6f6f6f" stroke-width="0.8" />
<text x="650.44" y="115.65" font-size="6.4" text-anchor="middle" textLength="7.42" lengthAdjust="spacingAndGlyphs" fill="#1a1a1a" stroke="#1a1a1a" stroke-width="0.15" >30</text>
<line x1="675.53" y1="106.40" x2="675.53" y2="108.45" stroke="#6f6f6f" stroke-width="0.8" />
<text x="675.53" y="115.65" font-size="6.4" text-anchor="middle" textLength="7.42" lengthAdjust="spacingAndGlyphs" fill="#1a1a1a" stroke="#1a1a1a" stroke-width="0.15" >35</text>
<line x1="489.05" y1="101.95" x2="491.10" y2="101.95" stroke="#6f6f6f" stroke-width="0.8" />
<text x="487.00" y="104.18" font-size="6.4" text-anchor="end" textLength="3.71" lengthAdjust="spacingAndGlyphs" fill="#1a1a1a" stroke="#1a1a1a" stroke-width="0.15" >0</text>
<line x1="489.05" y1="81.37" x2="491.10" y2="81.37" stroke="#6f6f6f" stroke-width="0.8" />
<text x="487.00" y="83.60" font-size="6.4" text-anchor="end" textLength="3.71" lengthAdjust="spacingAndGlyphs" fill="#1a1a1a" stroke="#1a1a1a" stroke-width="0.15" >2</text>
<line x1="489.05" y1="60.79" x2="491.10" y2="60.79" stroke="#6f6f6f" stroke-width="0.8" />
<text x="487.00" y="63.02" font-size="6.4" text-anchor="end" textLength="3.71" lengthAdjust="spacingAndGlyphs" fill="#1a1a1a" stroke="#1a1a1a" stroke-width="0.15" >4</text>
<line x1="489.05" y1="40.21" x2="491.10" y2="40.21" stroke="#6f6f6f" stroke-width="0.8" />
<text x="487.00" y="42.44" font-size="6.4" text-anchor="end" textLength="3.71" lengthAdjust="spacingAndGlyphs" fill="#1a1a1a" stroke="#1a1a1a" stroke-width="0.15" >6</text>
<line x1="489.05" y1="19.63" x2="491.10" y2="19.63" stroke="#6f6f6f" stroke-width="0.8" />
<text x="487.00" y="21.86" font-size="6.4" text-anchor="end" textLength="3.71" lengthAdjust="spacingAndGlyphs" fill="#1a1a1a" stroke="#1a1a1a" stroke-width="0.15" >8</text>
<text x="587.60" y="123.50" font-size="6.6" text-anchor="middle" textLength="46.80" lengthAdjust="spacingAndGlyphs" fill="#1a1a1a" stroke="#1a1a1a" stroke-width="0.15" >Subject number</text>
<text x="478.50" y="55.60" font-size="6.6" text-anchor="middle" textLength="31.00" lengthAdjust="spacingAndGlyphs" transform="rotate(-90 478.50 55.60)" fill="#1a1a1a" stroke="#1a1a1a" stroke-width="0.15" >Pain score</text>
<text transform="translate(473.09 11.90) scale(1.024 1)" font-family="Liberation Serif" font-weight="bold" font-size="16.2" fill="#000">C</text>
<text x="499.80" y="14.70" font-size="6.6" text-anchor="start" textLength="69.59" lengthAdjust="spacingAndGlyphs" fill="#1a1a1a" stroke="#1a1a1a" stroke-width="0.15" >Random forest (0.2339)</text>
<text x="499.80" y="21.70" font-size="6.6" textLength="40.91" lengthAdjust="spacingAndGlyphs" fill="#1a1a1a" stroke="#1a1a1a" stroke-width="0.15">*<tspan font-style="italic">ch</tspan> = <tspan font-style="italic">-0.2448</tspan></text>
<polyline points="34.60,224.45 39.62,224.45 44.64,214.16 49.65,214.16 59.69,193.58 84.78,193.58 89.80,183.29 99.83,183.29 104.85,173.00 114.89,173.00 119.91,162.71 139.98,162.71 145.00,152.42 170.09,152.42 175.10,142.13 195.18,142.13 200.19,131.84 210.23,131.84" fill="none" stroke="#1a1a1a" stroke-width="0.95" stroke-linejoin="miter" stroke-linecap="square"/>
<circle cx="34.60" cy="198.50" r="2.15" fill="#1f77b4"/>
<circle cx="39.62" cy="195.70" r="2.15" fill="#1f77b4"/>
<circle cx="44.64" cy="195.00" r="2.15" fill="#1f77b4"/>
<circle cx="49.65" cy="167.50" r="2.15" fill="#1f77b4"/>
<circle cx="54.67" cy="179.70" r="2.15" fill="#1f77b4"/>
<circle cx="59.69" cy="164.70" r="2.15" fill="#1f77b4"/>
<circle cx="64.71" cy="182.60" r="2.15" fill="#1f77b4"/>
<circle cx="69.73" cy="187.20" r="2.15" fill="#1f77b4"/>
<circle cx="74.74" cy="180.70" r="2.15" fill="#1f77b4"/>
<circle cx="79.76" cy="164.50" r="2.15" fill="#1f77b4"/>
<circle cx="84.78" cy="170.70" r="2.15" fill="#1f77b4"/>
<circle cx="89.80" cy="168.90" r="2.15" fill="#1f77b4"/>
<circle cx="94.82" cy="156.40" r="2.15" fill="#1f77b4"/>
<circle cx="99.83" cy="157.70" r="2.15" fill="#1f77b4"/>
<circle cx="104.85" cy="165.70" r="2.15" fill="#1f77b4"/>
<circle cx="109.87" cy="165.50" r="2.15" fill="#1f77b4"/>
<circle cx="114.89" cy="172.50" r="2.15" fill="#1f77b4"/>
<circle cx="119.91" cy="160.50" r="2.15" fill="#1f77b4"/>
<circle cx="124.92" cy="169.40" r="2.15" fill="#1f77b4"/>
<circle cx="129.94" cy="170.80" r="2.15" fill="#1f77b4"/>
<circle cx="134.96" cy="146.70" r="2.15" fill="#1f77b4"/>
<circle cx="139.98" cy="174.70" r="2.15" fill="#1f77b4"/>
<circle cx="145.00" cy="173.70" r="2.15" fill="#1f77b4"/>
<circle cx="150.01" cy="162.50" r="2.15" fill="#1f77b4"/>
<circle cx="155.03" cy="185.50" r="2.15" fill="#1f77b4"/>
<circle cx="160.05" cy="168.80" r="2.15" fill="#1f77b4"/>
<circle cx="165.07" cy="161.10" r="2.15" fill="#1f77b4"/>
<circle cx="170.09" cy="175.70" r="2.15" fill="#1f77b4"/>
<circle cx="175.10" cy="165.80" r="2.15" fill="#1f77b4"/>
<circle cx="180.12" cy="169.80" r="2.15" fill="#1f77b4"/>
<circle cx="185.14" cy="156.10" r="2.15" fill="#1f77b4"/>
<circle cx="190.16" cy="171.60" r="2.15" fill="#1f77b4"/>
<circle cx="195.18" cy="163.50" r="2.15" fill="#1f77b4"/>
<circle cx="200.19" cy="155.50" r="2.15" fill="#1f77b4"/>
<circle cx="205.21" cy="164.10" r="2.15" fill="#1f77b4"/>
<circle cx="210.23" cy="152.50" r="2.15" fill="#1f77b4"/>
<rect x="25.90" y="127.30" width="193.50" height="101.60" fill="none" stroke="#6f6f6f" stroke-width="0.8"/>
<line x1="34.60" y1="228.90" x2="34.60" y2="230.95" stroke="#6f6f6f" stroke-width="0.8" />
<text x="34.60" y="238.15" font-size="6.4" text-anchor="middle" textLength="3.71" lengthAdjust="spacingAndGlyphs" fill="#1a1a1a" stroke="#1a1a1a" stroke-width="0.15" >0</text>
<line x1="59.69" y1="228.90" x2="59.69" y2="230.95" stroke="#6f6f6f" stroke-width="0.8" />
<text x="59.69" y="238.15" font-size="6.4" text-anchor="middle" textLength="3.71" lengthAdjust="spacingAndGlyphs" fill="#1a1a1a" stroke="#1a1a1a" stroke-width="0.15" >5</text>
<line x1="84.78" y1="228.90" x2="84.78" y2="230.95" stroke="#6f6f6f" stroke-width="0.8" />
<text x="84.78" y="238.15" font-size="6.4" text-anchor="middle" textLength="7.42" lengthAdjust="spacingAndGlyphs" fill="#1a1a1a" stroke="#1a1a1a" stroke-width="0.15" >10</text>
<line x1="109.87" y1="228.90" x2="109.87" y2="230.95" stroke="#6f6f6f" stroke-width="0.8" />
<text x="109.87" y="238.15" font-size="6.4" text-anchor="middle" textLength="7.42" lengthAdjust="spacingAndGlyphs" fill="#1a1a1a" stroke="#1a1a1a" stroke-width="0.15" >15</text>
<line x1="134.96" y1="228.90" x2="134.96" y2="230.95" stroke="#6f6f6f" stroke-width="0.8" />
<text x="134.96" y="238.15" font-size="6.4" text-anchor="middle" textLength="7.42" lengthAdjust="spacingAndGlyphs" fill="#1a1a1a" stroke="#1a1a1a" stroke-width="0.15" >20</text>
<line x1="160.05" y1="228.90" x2="160.05" y2="230.95" stroke="#6f6f6f" stroke-width="0.8" />
<text x="160.05" y="238.15" font-size="6.4" text-anchor="middle" textLength="7.42" lengthAdjust="spacingAndGlyphs" fill="#1a1a1a" stroke="#1a1a1a" stroke-width="0.15" >25</text>
<line x1="185.14" y1="228.90" x2="185.14" y2="230.95" stroke="#6f6f6f" stroke-width="0.8" />
<text x="185.14" y="238.15" font-size="6.4" text-anchor="middle" textLength="7.42" lengthAdjust="spacingAndGlyphs" fill="#1a1a1a" stroke="#1a1a1a" stroke-width="0.15" >30</text>
<line x1="210.23" y1="228.90" x2="210.23" y2="230.95" stroke="#6f6f6f" stroke-width="0.8" />
<text x="210.23" y="238.15" font-size="6.4" text-anchor="middle" textLength="7.42" lengthAdjust="spacingAndGlyphs" fill="#1a1a1a" stroke="#1a1a1a" stroke-width="0.15" >35</text>
<line x1="23.85" y1="224.45" x2="25.90" y2="224.45" stroke="#6f6f6f" stroke-width="0.8" />
<text x="21.80" y="226.68" font-size="6.4" text-anchor="end" textLength="3.71" lengthAdjust="spacingAndGlyphs" fill="#1a1a1a" stroke="#1a1a1a" stroke-width="0.15" >0</text>
<line x1="23.85" y1="203.87" x2="25.90" y2="203.87" stroke="#6f6f6f" stroke-width="0.8" />
<text x="21.80" y="206.10" font-size="6.4" text-anchor="end" textLength="3.71" lengthAdjust="spacingAndGlyphs" fill="#1a1a1a" stroke="#1a1a1a" stroke-width="0.15" >2</text>
<line x1="23.85" y1="183.29" x2="25.90" y2="183.29" stroke="#6f6f6f" stroke-width="0.8" />
<text x="21.80" y="185.52" font-size="6.4" text-anchor="end" textLength="3.71" lengthAdjust="spacingAndGlyphs" fill="#1a1a1a" stroke="#1a1a1a" stroke-width="0.15" >4</text>
<line x1="23.85" y1="162.71" x2="25.90" y2="162.71" stroke="#6f6f6f" stroke-width="0.8" />
<text x="21.80" y="164.94" font-size="6.4" text-anchor="end" textLength="3.71" lengthAdjust="spacingAndGlyphs" fill="#1a1a1a" stroke="#1a1a1a" stroke-width="0.15" >6</text>
<line x1="23.85" y1="142.13" x2="25.90" y2="142.13" stroke="#6f6f6f" stroke-width="0.8" />
<text x="21.80" y="144.36" font-size="6.4" text-anchor="end" textLength="3.71" lengthAdjust="spacingAndGlyphs" fill="#1a1a1a" stroke="#1a1a1a" stroke-width="0.15" >8</text>
<text x="122.65" y="246.00" font-size="6.6" text-anchor="middle" textLength="46.80" lengthAdjust="spacingAndGlyphs" fill="#1a1a1a" stroke="#1a1a1a" stroke-width="0.15" >Subject number</text>
<text x="14.20" y="178.10" font-size="6.6" text-anchor="middle" textLength="31.00" lengthAdjust="spacingAndGlyphs" transform="rotate(-90 14.20 178.10)" fill="#1a1a1a" stroke="#1a1a1a" stroke-width="0.15" >Pain score</text>
<text transform="translate(7.03 131.75) scale(0.957 1)" font-family="Liberation Serif" font-weight="bold" font-size="16.2" fill="#000">D</text>
<text x="34.90" y="137.20" font-size="6.6" text-anchor="start" textLength="84.75" lengthAdjust="spacingAndGlyphs" fill="#1a1a1a" stroke="#1a1a1a" stroke-width="0.15" >Support vector (rbf) (0.3332)</text>
<text x="34.90" y="144.20" font-size="6.6" textLength="40.91" lengthAdjust="spacingAndGlyphs" fill="#1a1a1a" stroke="#1a1a1a" stroke-width="0.15">*<tspan font-style="italic">ch</tspan> = <tspan font-style="italic">-0.1916</tspan></text>
<polyline points="267.30,224.45 272.32,224.45 277.34,214.16 282.35,214.16 292.39,193.58 317.48,193.58 322.50,183.29 332.53,183.29 337.55,173.00 347.59,173.00 352.61,162.71 372.68,162.71 377.70,152.42 402.79,152.42 407.80,142.13 427.88,142.13 432.89,131.84 442.93,131.84" fill="none" stroke="#1a1a1a" stroke-width="0.95" stroke-linejoin="miter" stroke-linecap="square"/>
<circle cx="267.30" cy="177.70" r="2.15" fill="#1f77b4"/>
<circle cx="272.32" cy="178.50" r="2.15" fill="#1f77b4"/>
<circle cx="277.34" cy="187.80" r="2.15" fill="#1f77b4"/>
<circle cx="282.35" cy="161.10" r="2.15" fill="#1f77b4"/>
<circle cx="287.37" cy="161.70" r="2.15" fill="#1f77b4"/>
<circle cx="292.39" cy="170.70" r="2.15" fill="#1f77b4"/>
<circle cx="297.41" cy="179.70" r="2.15" fill="#1f77b4"/>
<circle cx="302.43" cy="183.60" r="2.15" fill="#1f77b4"/>
<circle cx="307.44" cy="168.70" r="2.15" fill="#1f77b4"/>
<circle cx="312.46" cy="174.50" r="2.15" fill="#1f77b4"/>
<circle cx="317.48" cy="176.10" r="2.15" fill="#1f77b4"/>
<circle cx="322.50" cy="164.50" r="2.15" fill="#1f77b4"/>
<circle cx="327.52" cy="157.00" r="2.15" fill="#1f77b4"/>
<circle cx="332.53" cy="154.40" r="2.15" fill="#1f77b4"/>
<circle cx="337.55" cy="172.50" r="2.15" fill="#1f77b4"/>
<circle cx="342.57" cy="174.70" r="2.15" fill="#1f77b4"/>
<circle cx="347.59" cy="179.10" r="2.15" fill="#1f77b4"/>
<circle cx="352.61" cy="164.30" r="2.15" fill="#1f77b4"/>
<circle cx="357.62" cy="170.40" r="2.15" fill="#1f77b4"/>
<circle cx="362.64" cy="160.10" r="2.15" fill="#1f77b4"/>
<circle cx="367.66" cy="145.70" r="2.15" fill="#1f77b4"/>
<circle cx="372.68" cy="179.40" r="2.15" fill="#1f77b4"/>
<circle cx="377.70" cy="151.50" r="2.15" fill="#1f77b4"/>
<circle cx="382.71" cy="155.70" r="2.15" fill="#1f77b4"/>
<circle cx="387.73" cy="182.40" r="2.15" fill="#1f77b4"/>
<circle cx="392.75" cy="166.80" r="2.15" fill="#1f77b4"/>
<circle cx="397.77" cy="153.50" r="2.15" fill="#1f77b4"/>
<circle cx="402.79" cy="176.80" r="2.15" fill="#1f77b4"/>
<circle cx="407.80" cy="148.70" r="2.15" fill="#1f77b4"/>
<circle cx="412.82" cy="170.00" r="2.15" fill="#1f77b4"/>
<circle cx="417.84" cy="146.10" r="2.15" fill="#1f77b4"/>
<circle cx="422.86" cy="182.70" r="2.15" fill="#1f77b4"/>
<circle cx="427.88" cy="167.20" r="2.15" fill="#1f77b4"/>
<circle cx="432.89" cy="151.10" r="2.15" fill="#1f77b4"/>
<circle cx="437.91" cy="158.10" r="2.15" fill="#1f77b4"/>
<circle cx="442.93" cy="154.10" r="2.15" fill="#1f77b4"/>
<rect x="258.40" y="127.30" width="193.20" height="101.60" fill="none" stroke="#6f6f6f" stroke-width="0.8"/>
<line x1="267.30" y1="228.90" x2="267.30" y2="230.95" stroke="#6f6f6f" stroke-width="0.8" />
<text x="267.30" y="238.15" font-size="6.4" text-anchor="middle" textLength="3.71" lengthAdjust="spacingAndGlyphs" fill="#1a1a1a" stroke="#1a1a1a" stroke-width="0.15" >0</text>
<line x1="292.39" y1="228.90" x2="292.39" y2="230.95" stroke="#6f6f6f" stroke-width="0.8" />
<text x="292.39" y="238.15" font-size="6.4" text-anchor="middle" textLength="3.71" lengthAdjust="spacingAndGlyphs" fill="#1a1a1a" stroke="#1a1a1a" stroke-width="0.15" >5</text>
<line x1="317.48" y1="228.90" x2="317.48" y2="230.95" stroke="#6f6f6f" stroke-width="0.8" />
<text x="317.48" y="238.15" font-size="6.4" text-anchor="middle" textLength="7.42" lengthAdjust="spacingAndGlyphs" fill="#1a1a1a" stroke="#1a1a1a" stroke-width="0.15" >10</text>
<line x1="342.57" y1="228.90" x2="342.57" y2="230.95" stroke="#6f6f6f" stroke-width="0.8" />
<text x="342.57" y="238.15" font-size="6.4" text-anchor="middle" textLength="7.42" lengthAdjust="spacingAndGlyphs" fill="#1a1a1a" stroke="#1a1a1a" stroke-width="0.15" >15</text>
<line x1="367.66" y1="228.90" x2="367.66" y2="230.95" stroke="#6f6f6f" stroke-width="0.8" />
<text x="367.66" y="238.15" font-size="6.4" text-anchor="middle" textLength="7.42" lengthAdjust="spacingAndGlyphs" fill="#1a1a1a" stroke="#1a1a1a" stroke-width="0.15" >20</text>
<line x1="392.75" y1="228.90" x2="392.75" y2="230.95" stroke="#6f6f6f" stroke-width="0.8" />
<text x="392.75" y="238.15" font-size="6.4" text-anchor="middle" textLength="7.42" lengthAdjust="spacingAndGlyphs" fill="#1a1a1a" stroke="#1a1a1a" stroke-width="0.15" >25</text>
<line x1="417.84" y1="228.90" x2="417.84" y2="230.95" stroke="#6f6f6f" stroke-width="0.8" />
<text x="417.84" y="238.15" font-size="6.4" text-anchor="middle" textLength="7.42" lengthAdjust="spacingAndGlyphs" fill="#1a1a1a" stroke="#1a1a1a" stroke-width="0.15" >30</text>
<line x1="442.93" y1="228.90" x2="442.93" y2="230.95" stroke="#6f6f6f" stroke-width="0.8" />
<text x="442.93" y="238.15" font-size="6.4" text-anchor="middle" textLength="7.42" lengthAdjust="spacingAndGlyphs" fill="#1a1a1a" stroke="#1a1a1a" stroke-width="0.15" >35</text>
<line x1="256.35" y1="224.45" x2="258.40" y2="224.45" stroke="#6f6f6f" stroke-width="0.8" />
<text x="254.30" y="226.68" font-size="6.4" text-anchor="end" textLength="3.71" lengthAdjust="spacingAndGlyphs" fill="#1a1a1a" stroke="#1a1a1a" stroke-width="0.15" >0</text>
<line x1="256.35" y1="203.87" x2="258.40" y2="203.87" stroke="#6f6f6f" stroke-width="0.8" />
<text x="254.30" y="206.10" font-size="6.4" text-anchor="end" textLength="3.71" lengthAdjust="spacingAndGlyphs" fill="#1a1a1a" stroke="#1a1a1a" stroke-width="0.15" >2</text>
<line x1="256.35" y1="183.29" x2="258.40" y2="183.29" stroke="#6f6f6f" stroke-width="0.8" />
<text x="254.30" y="185.52" font-size="6.4" text-anchor="end" textLength="3.71" lengthAdjust="spacingAndGlyphs" fill="#1a1a1a" stroke="#1a1a1a" stroke-width="0.15" >4</text>
<line x1="256.35" y1="162.71" x2="258.40" y2="162.71" stroke="#6f6f6f" stroke-width="0.8" />
<text x="254.30" y="164.94" font-size="6.4" text-anchor="end" textLength="3.71" lengthAdjust="spacingAndGlyphs" fill="#1a1a1a" stroke="#1a1a1a" stroke-width="0.15" >6</text>
<line x1="256.35" y1="142.13" x2="258.40" y2="142.13" stroke="#6f6f6f" stroke-width="0.8" />
<text x="254.30" y="144.36" font-size="6.4" text-anchor="end" textLength="3.71" lengthAdjust="spacingAndGlyphs" fill="#1a1a1a" stroke="#1a1a1a" stroke-width="0.15" >8</text>
<text x="355.00" y="246.00" font-size="6.6" text-anchor="middle" textLength="46.80" lengthAdjust="spacingAndGlyphs" fill="#1a1a1a" stroke="#1a1a1a" stroke-width="0.15" >Subject number</text>
<text x="247.00" y="178.10" font-size="6.6" text-anchor="middle" textLength="31.00" lengthAdjust="spacingAndGlyphs" transform="rotate(-90 247.00 178.10)" fill="#1a1a1a" stroke="#1a1a1a" stroke-width="0.15" >Pain score</text>
<text transform="translate(240.23 131.75) scale(0.957 1)" font-family="Liberation Serif" font-weight="bold" font-size="16.2" fill="#000">E</text>
<text x="267.70" y="137.20" font-size="6.6" text-anchor="start" textLength="93.09" lengthAdjust="spacingAndGlyphs" fill="#1a1a1a" stroke="#1a1a1a" stroke-width="0.15" >Support vector (linear) (0.1837)</text>
<text x="267.70" y="144.20" font-size="6.6" textLength="40.91" lengthAdjust="spacingAndGlyphs" fill="#1a1a1a" stroke="#1a1a1a" stroke-width="0.15">*<tspan>ch</tspan> = <tspan font-style="italic">-0.2195</tspan></text>
<polyline points="499.90,220.40 504.92,220.40 509.94,210.57 514.95,210.57 524.99,190.91 550.08,190.91 555.10,181.08 565.13,181.08 570.15,171.25 580.19,171.25 585.21,161.42 605.28,161.42 610.30,151.59 635.39,151.59 640.40,141.76 660.48,141.76 665.49,131.93 675.53,131.93" fill="none" stroke="#1a1a1a" stroke-width="0.95" stroke-linejoin="miter" stroke-linecap="square"/>
<circle cx="499.90" cy="212.10" r="2.15" fill="#1f77b4"/>
<circle cx="504.92" cy="224.20" r="2.15" fill="#1f77b4"/>
<circle cx="509.94" cy="196.50" r="2.15" fill="#1f77b4"/>
<circle cx="514.95" cy="177.50" r="2.15" fill="#1f77b4"/>
<circle cx="519.97" cy="175.10" r="2.15" fill="#1f77b4"/>
<circle cx="524.99" cy="193.90" r="2.15" fill="#1f77b4"/>
<circle cx="530.01" cy="181.50" r="2.15" fill="#1f77b4"/>
<circle cx="535.03" cy="181.10" r="2.15" fill="#1f77b4"/>
<circle cx="540.04" cy="202.70" r="2.15" fill="#1f77b4"/>
<circle cx="545.06" cy="181.10" r="2.15" fill="#1f77b4"/>
<circle cx="550.08" cy="167.10" r="2.15" fill="#1f77b4"/>
<circle cx="555.10" cy="176.70" r="2.15" fill="#1f77b4"/>
<circle cx="560.12" cy="166.70" r="2.15" fill="#1f77b4"/>
<circle cx="565.13" cy="164.50" r="2.15" fill="#1f77b4"/>
<circle cx="570.15" cy="166.50" r="2.15" fill="#1f77b4"/>
<circle cx="575.17" cy="169.70" r="2.15" fill="#1f77b4"/>
<circle cx="580.19" cy="173.70" r="2.15" fill="#1f77b4"/>
<circle cx="585.21" cy="160.00" r="2.15" fill="#1f77b4"/>
<circle cx="590.22" cy="159.00" r="2.15" fill="#1f77b4"/>
<circle cx="595.24" cy="161.50" r="2.15" fill="#1f77b4"/>
<circle cx="600.26" cy="149.70" r="2.15" fill="#1f77b4"/>
<circle cx="605.28" cy="170.80" r="2.15" fill="#1f77b4"/>
<circle cx="610.30" cy="163.50" r="2.15" fill="#1f77b4"/>
<circle cx="615.31" cy="146.50" r="2.15" fill="#1f77b4"/>
<circle cx="620.33" cy="190.90" r="2.15" fill="#1f77b4"/>
<circle cx="625.35" cy="157.50" r="2.15" fill="#1f77b4"/>
<circle cx="630.37" cy="167.80" r="2.15" fill="#1f77b4"/>
<circle cx="635.39" cy="175.80" r="2.15" fill="#1f77b4"/>
<circle cx="640.40" cy="154.70" r="2.15" fill="#1f77b4"/>
<circle cx="645.42" cy="157.10" r="2.15" fill="#1f77b4"/>
<circle cx="650.44" cy="140.50" r="2.15" fill="#1f77b4"/>
<circle cx="655.46" cy="161.70" r="2.15" fill="#1f77b4"/>
<circle cx="660.48" cy="138.60" r="2.15" fill="#1f77b4"/>
<circle cx="665.49" cy="136.40" r="2.15" fill="#1f77b4"/>
<circle cx="670.51" cy="138.00" r="2.15" fill="#1f77b4"/>
<circle cx="675.53" cy="157.70" r="2.15" fill="#1f77b4"/>
<rect x="491.10" y="127.50" width="193.00" height="101.40" fill="none" stroke="#6f6f6f" stroke-width="0.8"/>
<line x1="499.90" y1="228.90" x2="499.90" y2="230.95" stroke="#6f6f6f" stroke-width="0.8" />
<text x="499.90" y="238.15" font-size="6.4" text-anchor="middle" textLength="3.71" lengthAdjust="spacingAndGlyphs" fill="#1a1a1a" stroke="#1a1a1a" stroke-width="0.15" >0</text>
<line x1="524.99" y1="228.90" x2="524.99" y2="230.95" stroke="#6f6f6f" stroke-width="0.8" />
<text x="524.99" y="238.15" font-size="6.4" text-anchor="middle" textLength="3.71" lengthAdjust="spacingAndGlyphs" fill="#1a1a1a" stroke="#1a1a1a" stroke-width="0.15" >5</text>
<line x1="550.08" y1="228.90" x2="550.08" y2="230.95" stroke="#6f6f6f" stroke-width="0.8" />
<text x="550.08" y="238.15" font-size="6.4" text-anchor="middle" textLength="7.42" lengthAdjust="spacingAndGlyphs" fill="#1a1a1a" stroke="#1a1a1a" stroke-width="0.15" >10</text>
<line x1="575.17" y1="228.90" x2="575.17" y2="230.95" stroke="#6f6f6f" stroke-width="0.8" />
<text x="575.17" y="238.15" font-size="6.4" text-anchor="middle" textLength="7.42" lengthAdjust="spacingAndGlyphs" fill="#1a1a1a" stroke="#1a1a1a" stroke-width="0.15" >15</text>
<line x1="600.26" y1="228.90" x2="600.26" y2="230.95" stroke="#6f6f6f" stroke-width="0.8" />
<text x="600.26" y="238.15" font-size="6.4" text-anchor="middle" textLength="7.42" lengthAdjust="spacingAndGlyphs" fill="#1a1a1a" stroke="#1a1a1a" stroke-width="0.15" >20</text>
<line x1="625.35" y1="228.90" x2="625.35" y2="230.95" stroke="#6f6f6f" stroke-width="0.8" />
<text x="625.35" y="238.15" font-size="6.4" text-anchor="middle" textLength="7.42" lengthAdjust="spacingAndGlyphs" fill="#1a1a1a" stroke="#1a1a1a" stroke-width="0.15" >25</text>
<line x1="650.44" y1="228.90" x2="650.44" y2="230.95" stroke="#6f6f6f" stroke-width="0.8" />
<text x="650.44" y="238.15" font-size="6.4" text-anchor="middle" textLength="7.42" lengthAdjust="spacingAndGlyphs" fill="#1a1a1a" stroke="#1a1a1a" stroke-width="0.15" >30</text>
<line x1="675.53" y1="228.90" x2="675.53" y2="230.95" stroke="#6f6f6f" stroke-width="0.8" />
<text x="675.53" y="238.15" font-size="6.4" text-anchor="middle" textLength="7.42" lengthAdjust="spacingAndGlyphs" fill="#1a1a1a" stroke="#1a1a1a" stroke-width="0.15" >35</text>
<line x1="489.05" y1="220.40" x2="491.10" y2="220.40" stroke="#6f6f6f" stroke-width="0.8" />
<text x="487.00" y="222.63" font-size="6.4" text-anchor="end" textLength="3.71" lengthAdjust="spacingAndGlyphs" fill="#1a1a1a" stroke="#1a1a1a" stroke-width="0.15" >0</text>
<line x1="489.05" y1="200.74" x2="491.10" y2="200.74" stroke="#6f6f6f" stroke-width="0.8" />
<text x="487.00" y="202.97" font-size="6.4" text-anchor="end" textLength="3.71" lengthAdjust="spacingAndGlyphs" fill="#1a1a1a" stroke="#1a1a1a" stroke-width="0.15" >2</text>
<line x1="489.05" y1="181.08" x2="491.10" y2="181.08" stroke="#6f6f6f" stroke-width="0.8" />
<text x="487.00" y="183.31" font-size="6.4" text-anchor="end" textLength="3.71" lengthAdjust="spacingAndGlyphs" fill="#1a1a1a" stroke="#1a1a1a" stroke-width="0.15" >4</text>
<line x1="489.05" y1="161.42" x2="491.10" y2="161.42" stroke="#6f6f6f" stroke-width="0.8" />
<text x="487.00" y="163.65" font-size="6.4" text-anchor="end" textLength="3.71" lengthAdjust="spacingAndGlyphs" fill="#1a1a1a" stroke="#1a1a1a" stroke-width="0.15" >6</text>
<line x1="489.05" y1="141.76" x2="491.10" y2="141.76" stroke="#6f6f6f" stroke-width="0.8" />
<text x="487.00" y="143.99" font-size="6.4" text-anchor="end" textLength="3.71" lengthAdjust="spacingAndGlyphs" fill="#1a1a1a" stroke="#1a1a1a" stroke-width="0.15" >8</text>
<text x="587.60" y="246.00" font-size="6.6" text-anchor="middle" textLength="46.80" lengthAdjust="spacingAndGlyphs" fill="#1a1a1a" stroke="#1a1a1a" stroke-width="0.15" >Subject number</text>
<text x="478.50" y="178.20" font-size="6.6" text-anchor="middle" textLength="31.00" lengthAdjust="spacingAndGlyphs" transform="rotate(-90 478.50 178.20)" fill="#1a1a1a" stroke="#1a1a1a" stroke-width="0.15" >Pain score</text>
<text transform="translate(473.51 131.75) scale(1.053 1)" font-family="Liberation Serif" font-weight="bold" font-size="16.2" fill="#000">F</text>
<text x="499.90" y="137.40" font-size="6.6" text-anchor="start" textLength="88.93" lengthAdjust="spacingAndGlyphs" fill="#1a1a1a" stroke="#1a1a1a" stroke-width="0.15" >Support vector (poly) (0.6555)</text>
<text x="499.90" y="144.40" font-size="6.6" textLength="40.91" lengthAdjust="spacingAndGlyphs" fill="#1a1a1a" stroke="#1a1a1a" stroke-width="0.15">*<tspan font-style="italic">ch</tspan> = <tspan font-style="italic">-0.7772</tspan></text>
</svg>
</body></html>
